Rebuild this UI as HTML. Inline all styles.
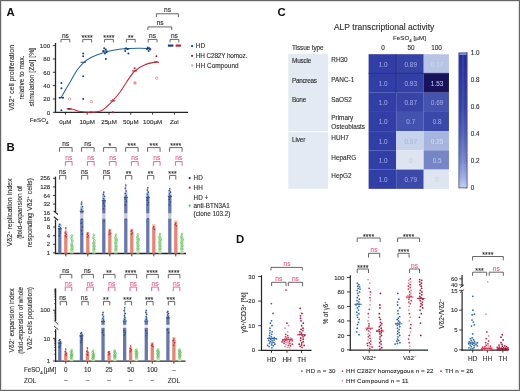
<!DOCTYPE html>
<html><head><meta charset="utf-8"><style>
html,body{margin:0;padding:0;background:#fff;}
svg{display:block;}
#w{width:520px;height:391px;overflow:hidden;will-change:transform;}
text{font-family:"Liberation Sans",sans-serif;}
</style></head><body><div id="w">
<svg width="520" height="391" viewBox="0 0 520 391">
<rect width="520" height="391" fill="#fff"/>
<rect x="1.5" y="1.5" width="517" height="388" fill="none" stroke="#e2e2e2" stroke-width="1"/>
<rect x="0.5" y="0.5" width="519" height="390" fill="none" stroke="#666" stroke-width="1"/>
<text x="6.60" y="16.30" font-size="11.4" text-anchor="start" fill="#111" font-weight="bold" >A</text>
<text x="6.40" y="150.50" font-size="11.4" text-anchor="start" fill="#111" font-weight="bold" >B</text>
<text x="277.60" y="16.20" font-size="11.4" text-anchor="start" fill="#111" font-weight="bold" >C</text>
<text x="235.90" y="242.60" font-size="11.4" text-anchor="start" fill="#111" font-weight="bold" >D</text>
<line x1="55.50" y1="43.00" x2="55.50" y2="112.90" stroke="#262626" stroke-width="1.3" />
<line x1="54.90" y1="112.30" x2="188.00" y2="112.30" stroke="#262626" stroke-width="1.3" />
<line x1="52.80" y1="112.30" x2="55.50" y2="112.30" stroke="#262626" stroke-width="0.9" />
<text x="50.20" y="114.60" font-size="6.2" text-anchor="end" fill="#2e2e2e" font-weight="normal" stroke="#2e2e2e" stroke-width="0.12" >0</text>
<line x1="52.80" y1="98.96" x2="55.50" y2="98.96" stroke="#262626" stroke-width="0.9" />
<text x="50.20" y="101.26" font-size="6.2" text-anchor="end" fill="#2e2e2e" font-weight="normal" stroke="#2e2e2e" stroke-width="0.12" >20</text>
<line x1="52.80" y1="85.62" x2="55.50" y2="85.62" stroke="#262626" stroke-width="0.9" />
<text x="50.20" y="87.92" font-size="6.2" text-anchor="end" fill="#2e2e2e" font-weight="normal" stroke="#2e2e2e" stroke-width="0.12" >40</text>
<line x1="52.80" y1="72.28" x2="55.50" y2="72.28" stroke="#262626" stroke-width="0.9" />
<text x="50.20" y="74.58" font-size="6.2" text-anchor="end" fill="#2e2e2e" font-weight="normal" stroke="#2e2e2e" stroke-width="0.12" >60</text>
<line x1="52.80" y1="58.94" x2="55.50" y2="58.94" stroke="#262626" stroke-width="0.9" />
<text x="50.20" y="61.24" font-size="6.2" text-anchor="end" fill="#2e2e2e" font-weight="normal" stroke="#2e2e2e" stroke-width="0.12" >80</text>
<line x1="52.80" y1="45.60" x2="55.50" y2="45.60" stroke="#262626" stroke-width="0.9" />
<text x="50.20" y="47.90" font-size="6.2" text-anchor="end" fill="#2e2e2e" font-weight="normal" stroke="#2e2e2e" stroke-width="0.12" >100</text>
<line x1="65.40" y1="112.30" x2="65.40" y2="114.70" stroke="#262626" stroke-width="0.9" />
<text x="65.40" y="123.80" font-size="6.2" text-anchor="middle" fill="#2e2e2e" font-weight="normal" stroke="#2e2e2e" stroke-width="0.12" >0µM</text>
<line x1="87.20" y1="112.30" x2="87.20" y2="114.70" stroke="#262626" stroke-width="0.9" />
<text x="87.20" y="123.80" font-size="6.2" text-anchor="middle" fill="#2e2e2e" font-weight="normal" stroke="#2e2e2e" stroke-width="0.12" >10µM</text>
<line x1="109.00" y1="112.30" x2="109.00" y2="114.70" stroke="#262626" stroke-width="0.9" />
<text x="109.00" y="123.80" font-size="6.2" text-anchor="middle" fill="#2e2e2e" font-weight="normal" stroke="#2e2e2e" stroke-width="0.12" >25µM</text>
<line x1="130.80" y1="112.30" x2="130.80" y2="114.70" stroke="#262626" stroke-width="0.9" />
<text x="130.80" y="123.80" font-size="6.2" text-anchor="middle" fill="#2e2e2e" font-weight="normal" stroke="#2e2e2e" stroke-width="0.12" >50µM</text>
<line x1="152.60" y1="112.30" x2="152.60" y2="114.70" stroke="#262626" stroke-width="0.9" />
<text x="152.60" y="123.80" font-size="6.2" text-anchor="middle" fill="#2e2e2e" font-weight="normal" stroke="#2e2e2e" stroke-width="0.12" >100µM</text>
<line x1="174.40" y1="112.30" x2="174.40" y2="114.70" stroke="#262626" stroke-width="0.9" />
<text x="174.40" y="123.80" font-size="6.2" text-anchor="middle" fill="#2e2e2e" font-weight="normal" stroke="#2e2e2e" stroke-width="0.12" >Zol</text>
<text x="29.80" y="121.80" font-size="6.2" text-anchor="start" fill="#2e2e2e" font-weight="normal" stroke="#2e2e2e" stroke-width="0.12" >FeSO<tspan font-size="4.3" dy="1.7">4</tspan><tspan dy="-1.7">​</tspan></text>
<text transform="translate(13.70,77.85) rotate(-90)" font-size="7.4" text-anchor="middle" fill="#2e2e2e" stroke="#2e2e2e" stroke-width="0.12" textLength="66.0" lengthAdjust="spacingAndGlyphs">Vδ2<tspan font-size="4.3" dy="-2.3">+</tspan><tspan dy="2.3">​</tspan> cell proliferation</text>
<text transform="translate(24.40,77.55) rotate(-90)" font-size="7.4" text-anchor="middle" fill="#2e2e2e" stroke="#2e2e2e" stroke-width="0.12" textLength="44.0" lengthAdjust="spacingAndGlyphs">relative to max.</text>
<text transform="translate(33.60,77.30) rotate(-90)" font-size="7.4" text-anchor="middle" fill="#2e2e2e" stroke="#2e2e2e" stroke-width="0.12" textLength="58.5" lengthAdjust="spacingAndGlyphs">stimulation [Zol] [%]</text>
<path d="M61.00 42.40V39.40H69.80V42.40" fill="none" stroke="#5e5e5e" stroke-width="0.95"/>
<text x="65.40" y="37.90" font-size="6.6" text-anchor="middle" fill="#2e2e2e" font-weight="normal" stroke="#2e2e2e" stroke-width="0.12" >ns</text>
<path d="M82.80 42.40V39.40H91.60V42.40" fill="none" stroke="#5e5e5e" stroke-width="0.95"/>
<text x="87.20" y="40.10" font-size="6.9" text-anchor="middle" fill="#2e2e2e" font-weight="normal" stroke="#2e2e2e" stroke-width="0.12" letter-spacing="0.15">****</text>
<path d="M104.60 42.40V39.40H113.40V42.40" fill="none" stroke="#5e5e5e" stroke-width="0.95"/>
<text x="109.00" y="40.10" font-size="6.9" text-anchor="middle" fill="#2e2e2e" font-weight="normal" stroke="#2e2e2e" stroke-width="0.12" letter-spacing="0.15">****</text>
<path d="M126.40 42.40V39.40H135.20V42.40" fill="none" stroke="#5e5e5e" stroke-width="0.95"/>
<text x="130.80" y="40.10" font-size="6.9" text-anchor="middle" fill="#2e2e2e" font-weight="normal" stroke="#2e2e2e" stroke-width="0.12" letter-spacing="0.15">**</text>
<path d="M148.20 42.40V39.40H157.00V42.40" fill="none" stroke="#5e5e5e" stroke-width="0.95"/>
<text x="152.60" y="37.90" font-size="6.6" text-anchor="middle" fill="#2e2e2e" font-weight="normal" stroke="#2e2e2e" stroke-width="0.12" >ns</text>
<path d="M170.00 42.40V39.40H178.80V42.40" fill="none" stroke="#5e5e5e" stroke-width="0.95"/>
<text x="174.40" y="37.90" font-size="6.6" text-anchor="middle" fill="#2e2e2e" font-weight="normal" stroke="#2e2e2e" stroke-width="0.12" >ns</text>
<path d="M147.90 30.00V26.90H171.70V30.00" fill="none" stroke="#5e5e5e" stroke-width="0.95"/>
<text x="160.20" y="25.40" font-size="6.6" text-anchor="middle" fill="#2e2e2e" font-weight="normal" stroke="#2e2e2e" stroke-width="0.12" >ns</text>
<path d="M156.40 17.20V13.80H178.40V17.20" fill="none" stroke="#5e5e5e" stroke-width="0.95"/>
<text x="167.50" y="12.30" font-size="6.6" text-anchor="middle" fill="#2e2e2e" font-weight="normal" stroke="#2e2e2e" stroke-width="0.12" >ns</text>
<path d="M61.30 97.40C62.08 96.00 64.47 91.65 66.00 89.00C67.53 86.35 68.73 84.53 70.50 81.50C72.27 78.47 74.45 73.92 76.60 70.80C78.75 67.68 81.00 65.02 83.40 62.80C85.80 60.58 88.07 59.07 91.00 57.50C93.93 55.93 97.50 54.57 101.00 53.40C104.50 52.23 107.73 51.30 112.00 50.50C116.27 49.70 121.78 48.97 126.60 48.60C131.42 48.23 137.17 48.30 140.90 48.30C144.63 48.30 147.65 48.55 149.00 48.60" fill="none" stroke="#2463a0" stroke-width="1.05"/>
<path d="M67.40 108.70C68.25 108.78 70.28 108.72 72.50 109.20C74.72 109.68 77.62 111.08 80.70 111.60C83.78 112.12 87.58 112.45 91.00 112.30C94.42 112.15 98.37 111.83 101.20 110.70C104.03 109.57 106.03 107.20 108.00 105.50C109.97 103.80 110.92 102.83 113.00 100.50C115.08 98.17 118.23 94.58 120.50 91.50C122.77 88.42 124.22 85.42 126.60 82.00C128.98 78.58 131.73 73.88 134.80 71.00C137.87 68.12 141.22 66.27 145.00 64.70C148.78 63.13 155.42 62.12 157.50 61.60" fill="none" stroke="#c8273d" stroke-width="1.05"/>
<circle cx="61.40" cy="82.95" r="1.0" fill="#1b4273" />
<circle cx="61.40" cy="88.29" r="1.0" fill="#1b4273" />
<circle cx="59.80" cy="97.63" r="1.0" fill="#1b4273" />
<circle cx="63.00" cy="97.63" r="1.0" fill="#1b4273" />
<circle cx="61.40" cy="110.30" r="1.0" fill="#1b4273" />
<line x1="58.80" y1="97.63" x2="64.00" y2="97.63" stroke="#1b4273" stroke-width="1.0" />
<circle cx="83.20" cy="53.60" r="1.0" fill="#1b4273" />
<circle cx="83.20" cy="56.27" r="1.0" fill="#1b4273" />
<circle cx="83.20" cy="76.28" r="1.0" fill="#1b4273" />
<circle cx="83.20" cy="98.96" r="1.0" fill="#1b4273" />
<line x1="80.60" y1="62.27" x2="85.80" y2="62.27" stroke="#1b4273" stroke-width="1.0" />
<circle cx="104.20" cy="48.27" r="1.0" fill="#1b4273" />
<circle cx="105.80" cy="49.60" r="1.0" fill="#1b4273" />
<circle cx="103.40" cy="50.94" r="1.0" fill="#1b4273" />
<circle cx="106.60" cy="52.27" r="1.0" fill="#1b4273" />
<circle cx="105.00" cy="53.60" r="1.0" fill="#1b4273" />
<circle cx="105.90" cy="58.94" r="1.0" fill="#1b4273" />
<line x1="102.40" y1="50.94" x2="107.60" y2="50.94" stroke="#1b4273" stroke-width="1.0" />
<circle cx="126.00" cy="48.27" r="1.0" fill="#1b4273" />
<circle cx="127.60" cy="48.93" r="1.0" fill="#1b4273" />
<circle cx="125.20" cy="50.94" r="1.0" fill="#1b4273" />
<circle cx="128.40" cy="53.60" r="1.0" fill="#1b4273" />
<line x1="124.20" y1="48.93" x2="129.40" y2="48.93" stroke="#1b4273" stroke-width="1.0" />
<circle cx="147.80" cy="47.60" r="1.0" fill="#1b4273" />
<circle cx="149.40" cy="48.27" r="1.0" fill="#1b4273" />
<circle cx="147.00" cy="48.93" r="1.0" fill="#1b4273" />
<circle cx="150.20" cy="49.60" r="1.0" fill="#1b4273" />
<circle cx="148.60" cy="50.94" r="1.0" fill="#1b4273" />
<line x1="146.00" y1="48.93" x2="151.20" y2="48.93" stroke="#1b4273" stroke-width="1.0" />
<circle cx="69.20" cy="108.97" r="1.0" fill="#a8202f" />
<line x1="66.60" y1="108.97" x2="71.80" y2="108.97" stroke="#a8202f" stroke-width="1.0" />
<circle cx="91.00" cy="112.30" r="1.0" fill="#a8202f" />
<line x1="88.40" y1="112.30" x2="93.60" y2="112.30" stroke="#a8202f" stroke-width="1.0" />
<circle cx="112.80" cy="100.29" r="1.0" fill="#a8202f" />
<circle cx="112.80" cy="112.30" r="1.0" fill="#a8202f" />
<line x1="110.20" y1="100.96" x2="115.40" y2="100.96" stroke="#a8202f" stroke-width="1.0" />
<circle cx="134.60" cy="68.28" r="1.0" fill="#a8202f" />
<line x1="132.00" y1="70.95" x2="137.20" y2="70.95" stroke="#a8202f" stroke-width="1.0" />
<circle cx="156.40" cy="56.27" r="1.0" fill="#a8202f" />
<line x1="153.80" y1="62.27" x2="159.00" y2="62.27" stroke="#a8202f" stroke-width="1.0" />
<circle cx="69.60" cy="98.96" r="1.25" fill="none" stroke="#e2727d" stroke-width="0.65"/>
<circle cx="91.40" cy="101.63" r="1.25" fill="none" stroke="#e2727d" stroke-width="0.65"/>
<circle cx="113.20" cy="100.29" r="1.25" fill="none" stroke="#e2727d" stroke-width="0.65"/>
<circle cx="135.00" cy="82.95" r="1.25" fill="#f0b0b5" stroke="#e2727d" stroke-width="0.65"/>
<circle cx="156.80" cy="78.28" r="1.25" fill="none" stroke="#e2727d" stroke-width="0.65"/>
<line x1="167.90" y1="45.60" x2="173.40" y2="45.60" stroke="#1b4273" stroke-width="2.2" />
<line x1="175.60" y1="45.60" x2="181.00" y2="45.60" stroke="#b8243a" stroke-width="2.2" />
<circle cx="192.10" cy="46.10" r="1.1" fill="#1d3f66" />
<text x="195.80" y="48.30" font-size="6.4" text-anchor="start" fill="#2e2e2e" font-weight="normal" stroke="#2e2e2e" stroke-width="0.12" >HD</text>
<circle cx="192.10" cy="55.80" r="1.1" fill="#8a2030" />
<text x="195.80" y="58.00" font-size="6.4" text-anchor="start" fill="#2e2e2e" font-weight="normal" stroke="#2e2e2e" stroke-width="0.12" textLength="51.5">HH C282Y homoz.</text>
<circle cx="192.10" cy="65.50" r="1.15" fill="#e8a0a8" />
<text x="195.80" y="67.70" font-size="6.4" text-anchor="start" fill="#2e2e2e" font-weight="normal" stroke="#2e2e2e" stroke-width="0.12" textLength="42.8">HH Compound</text>
<line x1="55.50" y1="176.60" x2="55.50" y2="212.00" stroke="#262626" stroke-width="1.3" />
<line x1="55.50" y1="219.60" x2="55.50" y2="254.10" stroke="#262626" stroke-width="1.3" />
<line x1="53.60" y1="210.90" x2="58.00" y2="214.50" stroke="#262626" stroke-width="1.1" />
<line x1="53.80" y1="216.70" x2="58.20" y2="220.30" stroke="#262626" stroke-width="1.1" />
<line x1="54.90" y1="253.50" x2="186.00" y2="253.50" stroke="#262626" stroke-width="1.3" />
<line x1="53.00" y1="178.30" x2="55.50" y2="178.30" stroke="#262626" stroke-width="0.9" />
<text x="50.20" y="180.40" font-size="6.0" text-anchor="end" fill="#2e2e2e" font-weight="normal" stroke="#2e2e2e" stroke-width="0.12" >256</text>
<line x1="53.00" y1="186.90" x2="55.50" y2="186.90" stroke="#262626" stroke-width="0.9" />
<text x="50.20" y="189.00" font-size="6.0" text-anchor="end" fill="#2e2e2e" font-weight="normal" stroke="#2e2e2e" stroke-width="0.12" >128</text>
<line x1="53.00" y1="195.50" x2="55.50" y2="195.50" stroke="#262626" stroke-width="0.9" />
<text x="50.20" y="197.60" font-size="6.0" text-anchor="end" fill="#2e2e2e" font-weight="normal" stroke="#2e2e2e" stroke-width="0.12" >64</text>
<line x1="53.00" y1="204.10" x2="55.50" y2="204.10" stroke="#262626" stroke-width="0.9" />
<text x="50.20" y="206.20" font-size="6.0" text-anchor="end" fill="#2e2e2e" font-weight="normal" stroke="#2e2e2e" stroke-width="0.12" >32</text>
<text x="50.20" y="214.80" font-size="6.0" text-anchor="end" fill="#2e2e2e" font-weight="normal" stroke="#2e2e2e" stroke-width="0.12" >16</text>
<text x="50.20" y="220.60" font-size="6.0" text-anchor="end" fill="#2e2e2e" font-weight="normal" stroke="#2e2e2e" stroke-width="0.12" >16</text>
<line x1="53.00" y1="227.10" x2="55.50" y2="227.10" stroke="#262626" stroke-width="0.9" />
<text x="50.20" y="229.20" font-size="6.0" text-anchor="end" fill="#2e2e2e" font-weight="normal" stroke="#2e2e2e" stroke-width="0.12" >8</text>
<line x1="53.00" y1="235.70" x2="55.50" y2="235.70" stroke="#262626" stroke-width="0.9" />
<text x="50.20" y="237.80" font-size="6.0" text-anchor="end" fill="#2e2e2e" font-weight="normal" stroke="#2e2e2e" stroke-width="0.12" >4</text>
<line x1="53.00" y1="244.30" x2="55.50" y2="244.30" stroke="#262626" stroke-width="0.9" />
<text x="50.20" y="246.40" font-size="6.0" text-anchor="end" fill="#2e2e2e" font-weight="normal" stroke="#2e2e2e" stroke-width="0.12" >2</text>
<line x1="53.00" y1="252.90" x2="55.50" y2="252.90" stroke="#262626" stroke-width="0.9" />
<text x="50.20" y="255.00" font-size="6.0" text-anchor="end" fill="#2e2e2e" font-weight="normal" stroke="#2e2e2e" stroke-width="0.12" >1</text>
<line x1="65.80" y1="253.50" x2="65.80" y2="256.30" stroke="#262626" stroke-width="0.9" />
<line x1="87.80" y1="253.50" x2="87.80" y2="256.30" stroke="#262626" stroke-width="0.9" />
<line x1="109.80" y1="253.50" x2="109.80" y2="256.30" stroke="#262626" stroke-width="0.9" />
<line x1="131.80" y1="253.50" x2="131.80" y2="256.30" stroke="#262626" stroke-width="0.9" />
<line x1="153.80" y1="253.50" x2="153.80" y2="256.30" stroke="#262626" stroke-width="0.9" />
<line x1="175.80" y1="253.50" x2="175.80" y2="256.30" stroke="#262626" stroke-width="0.9" />
<text transform="translate(12.20,212.45) rotate(-90)" font-size="7.4" text-anchor="middle" fill="#2e2e2e" stroke="#2e2e2e" stroke-width="0.12" textLength="68.0" lengthAdjust="spacingAndGlyphs">Vδ2<tspan font-size="4.3" dy="-2.3">+</tspan><tspan dy="2.3">​</tspan> replication index</text>
<text transform="translate(22.30,212.45) rotate(-90)" font-size="7.4" text-anchor="middle" fill="#2e2e2e" stroke="#2e2e2e" stroke-width="0.12" textLength="52.8" lengthAdjust="spacingAndGlyphs">(fold-expansion of</text>
<text transform="translate(31.70,212.80) rotate(-90)" font-size="7.4" text-anchor="middle" fill="#2e2e2e" stroke="#2e2e2e" stroke-width="0.12" textLength="69.5" lengthAdjust="spacingAndGlyphs">responding Vδ2<tspan font-size="4.3" dy="-2.3">+</tspan><tspan dy="2.3">​</tspan> cells)</text>
<line x1="59.80" y1="224.33" x2="59.80" y2="228.76" stroke="#284f8c" stroke-width="0.6" />
<rect x="58.15" y="223.73" width="3.30" height="5.03" fill="#b4c3e0" />
<rect x="64.15" y="231.08" width="3.30" height="3.72" fill="#f3b9ab" />
<rect x="58.15" y="228.76" width="3.30" height="24.74" fill="#6677ae" />
<circle cx="59.80" cy="224.33" r="0.8" fill="#284f8c" />
<circle cx="59.20" cy="226.35" r="0.8" fill="#284f8c" />
<circle cx="60.40" cy="227.90" r="0.8" fill="#284f8c" />
<circle cx="59.50" cy="229.68" r="0.8" fill="#284f8c" />
<circle cx="60.10" cy="231.75" r="0.8" fill="#284f8c" />
<circle cx="59.80" cy="233.44" r="0.8" fill="#284f8c" />
<circle cx="59.20" cy="235.70" r="0.8" fill="#284f8c" />
<line x1="57.80" y1="228.76" x2="61.80" y2="228.76" stroke="#284f8c" stroke-width="1.1" />
<line x1="65.80" y1="227.90" x2="65.80" y2="234.80" stroke="#cf2a2e" stroke-width="0.6" />
<rect x="64.15" y="234.80" width="3.30" height="18.70" fill="#e98474" />
<circle cx="65.80" cy="227.90" r="0.8" fill="#cf2a2e" />
<circle cx="65.20" cy="232.93" r="0.8" fill="#cf2a2e" />
<circle cx="66.40" cy="234.24" r="0.8" fill="#cf2a2e" />
<circle cx="65.50" cy="235.70" r="0.8" fill="#cf2a2e" />
<circle cx="66.10" cy="237.01" r="0.8" fill="#cf2a2e" />
<rect x="70.25" y="244.30" width="3.30" height="9.20" fill="#b6e2ae" />
<line x1="71.90" y1="235.70" x2="71.90" y2="244.30" stroke="#52be52" stroke-width="0.5" />
<circle cx="71.90" cy="235.70" r="1.0" fill="none" stroke="#52be52" stroke-width="0.6"/>
<circle cx="71.30" cy="238.47" r="1.0" fill="none" stroke="#52be52" stroke-width="0.6"/>
<circle cx="72.50" cy="241.04" r="1.0" fill="none" stroke="#52be52" stroke-width="0.6"/>
<circle cx="71.60" cy="243.69" r="1.0" fill="none" stroke="#52be52" stroke-width="0.6"/>
<circle cx="72.20" cy="246.32" r="1.0" fill="none" stroke="#52be52" stroke-width="0.6"/>
<circle cx="71.90" cy="249.18" r="1.0" fill="none" stroke="#52be52" stroke-width="0.6"/>
<line x1="81.80" y1="201.97" x2="81.80" y2="211.24" stroke="#284f8c" stroke-width="0.6" />
<rect x="80.15" y="206.21" width="3.30" height="5.03" fill="#b4c3e0" />
<rect x="86.15" y="231.98" width="3.30" height="3.72" fill="#f3b9ab" />
<rect x="80.15" y="218.40" width="3.30" height="35.10" fill="#6677ae" />
<rect x="80.15" y="213.40" width="3.30" height="5.00" fill="#c3cbe0" />
<rect x="80.15" y="211.24" width="3.30" height="2.16" fill="#6677ae" />
<circle cx="81.80" cy="201.97" r="0.8" fill="#284f8c" />
<circle cx="81.20" cy="204.10" r="0.8" fill="#284f8c" />
<circle cx="82.40" cy="206.68" r="0.8" fill="#284f8c" />
<circle cx="81.50" cy="209.33" r="0.8" fill="#284f8c" />
<circle cx="82.10" cy="211.24" r="0.8" fill="#284f8c" />
<circle cx="81.80" cy="219.30" r="0.8" fill="#284f8c" />
<circle cx="81.20" cy="223.15" r="0.8" fill="#284f8c" />
<circle cx="82.40" cy="227.10" r="0.8" fill="#284f8c" />
<circle cx="81.50" cy="230.67" r="0.8" fill="#284f8c" />
<circle cx="82.10" cy="234.24" r="0.8" fill="#284f8c" />
<line x1="79.80" y1="211.24" x2="83.80" y2="211.24" stroke="#284f8c" stroke-width="1.1" />
<line x1="87.80" y1="232.93" x2="87.80" y2="235.70" stroke="#cf2a2e" stroke-width="0.6" />
<rect x="86.15" y="235.70" width="3.30" height="17.80" fill="#e98474" />
<circle cx="87.80" cy="232.93" r="0.8" fill="#cf2a2e" />
<circle cx="87.20" cy="234.52" r="0.8" fill="#cf2a2e" />
<circle cx="88.40" cy="235.70" r="0.8" fill="#cf2a2e" />
<circle cx="87.50" cy="237.01" r="0.8" fill="#cf2a2e" />
<rect x="92.25" y="242.04" width="3.30" height="11.46" fill="#b6e2ae" />
<line x1="93.90" y1="234.80" x2="93.90" y2="242.04" stroke="#52be52" stroke-width="0.5" />
<circle cx="93.90" cy="234.80" r="1.0" fill="none" stroke="#52be52" stroke-width="0.6"/>
<circle cx="93.30" cy="237.72" r="1.0" fill="none" stroke="#52be52" stroke-width="0.6"/>
<circle cx="94.50" cy="240.58" r="1.0" fill="none" stroke="#52be52" stroke-width="0.6"/>
<circle cx="93.60" cy="243.12" r="1.0" fill="none" stroke="#52be52" stroke-width="0.6"/>
<circle cx="94.20" cy="246.32" r="1.0" fill="none" stroke="#52be52" stroke-width="0.6"/>
<circle cx="93.90" cy="249.18" r="1.0" fill="none" stroke="#52be52" stroke-width="0.6"/>
<line x1="103.80" y1="192.13" x2="103.80" y2="200.73" stroke="#284f8c" stroke-width="0.6" />
<rect x="102.15" y="195.70" width="3.30" height="5.03" fill="#b4c3e0" />
<rect x="108.15" y="228.72" width="3.30" height="3.72" fill="#f3b9ab" />
<rect x="102.15" y="218.40" width="3.30" height="35.10" fill="#6677ae" />
<rect x="102.15" y="213.40" width="3.30" height="5.00" fill="#c3cbe0" />
<rect x="102.15" y="200.73" width="3.30" height="12.67" fill="#6677ae" />
<circle cx="103.80" cy="192.13" r="0.8" fill="#284f8c" />
<circle cx="103.20" cy="194.39" r="0.8" fill="#284f8c" />
<circle cx="104.40" cy="196.30" r="0.8" fill="#284f8c" />
<circle cx="103.50" cy="198.56" r="0.8" fill="#284f8c" />
<circle cx="104.10" cy="200.15" r="0.8" fill="#284f8c" />
<circle cx="103.80" cy="201.97" r="0.8" fill="#284f8c" />
<circle cx="103.20" cy="203.72" r="0.8" fill="#284f8c" />
<circle cx="104.40" cy="205.76" r="0.8" fill="#284f8c" />
<circle cx="103.50" cy="208.75" r="0.8" fill="#284f8c" />
<circle cx="104.10" cy="221.08" r="0.8" fill="#284f8c" />
<line x1="101.80" y1="200.73" x2="105.80" y2="200.73" stroke="#284f8c" stroke-width="1.1" />
<line x1="109.80" y1="230.26" x2="109.80" y2="232.44" stroke="#cf2a2e" stroke-width="0.6" />
<rect x="108.15" y="232.44" width="3.30" height="21.06" fill="#e98474" />
<circle cx="109.80" cy="230.26" r="0.8" fill="#cf2a2e" />
<circle cx="109.20" cy="231.98" r="0.8" fill="#cf2a2e" />
<circle cx="110.40" cy="233.18" r="0.8" fill="#cf2a2e" />
<circle cx="109.50" cy="234.52" r="0.8" fill="#cf2a2e" />
<rect x="114.25" y="238.09" width="3.30" height="15.41" fill="#b6e2ae" />
<line x1="115.90" y1="234.80" x2="115.90" y2="238.09" stroke="#52be52" stroke-width="0.5" />
<circle cx="115.90" cy="234.80" r="1.0" fill="none" stroke="#52be52" stroke-width="0.6"/>
<circle cx="115.30" cy="237.36" r="1.0" fill="none" stroke="#52be52" stroke-width="0.6"/>
<circle cx="116.50" cy="240.13" r="1.0" fill="none" stroke="#52be52" stroke-width="0.6"/>
<circle cx="115.60" cy="243.12" r="1.0" fill="none" stroke="#52be52" stroke-width="0.6"/>
<circle cx="116.20" cy="246.32" r="1.0" fill="none" stroke="#52be52" stroke-width="0.6"/>
<circle cx="115.90" cy="249.18" r="1.0" fill="none" stroke="#52be52" stroke-width="0.6"/>
<line x1="125.80" y1="184.93" x2="125.80" y2="197.38" stroke="#284f8c" stroke-width="0.6" />
<rect x="124.15" y="192.35" width="3.30" height="5.03" fill="#b4c3e0" />
<rect x="130.15" y="228.72" width="3.30" height="3.72" fill="#f3b9ab" />
<rect x="124.15" y="218.40" width="3.30" height="35.10" fill="#6677ae" />
<rect x="124.15" y="213.40" width="3.30" height="5.00" fill="#c3cbe0" />
<rect x="124.15" y="197.38" width="3.30" height="16.02" fill="#6677ae" />
<circle cx="125.80" cy="184.93" r="0.8" fill="#284f8c" />
<circle cx="125.20" cy="188.23" r="0.8" fill="#284f8c" />
<circle cx="126.40" cy="191.00" r="0.8" fill="#284f8c" />
<circle cx="125.50" cy="193.53" r="0.8" fill="#284f8c" />
<circle cx="126.10" cy="195.50" r="0.8" fill="#284f8c" />
<circle cx="125.80" cy="197.16" r="0.8" fill="#284f8c" />
<circle cx="125.20" cy="199.07" r="0.8" fill="#284f8c" />
<circle cx="126.40" cy="201.33" r="0.8" fill="#284f8c" />
<circle cx="125.50" cy="204.90" r="0.8" fill="#284f8c" />
<circle cx="126.10" cy="219.30" r="0.8" fill="#284f8c" />
<line x1="123.80" y1="197.38" x2="127.80" y2="197.38" stroke="#284f8c" stroke-width="1.1" />
<line x1="131.80" y1="230.26" x2="131.80" y2="232.44" stroke="#cf2a2e" stroke-width="0.6" />
<rect x="130.15" y="232.44" width="3.30" height="21.06" fill="#e98474" />
<circle cx="131.80" cy="230.26" r="0.8" fill="#cf2a2e" />
<circle cx="131.20" cy="231.53" r="0.8" fill="#cf2a2e" />
<circle cx="132.40" cy="232.93" r="0.8" fill="#cf2a2e" />
<circle cx="131.50" cy="233.97" r="0.8" fill="#cf2a2e" />
<rect x="136.25" y="237.72" width="3.30" height="15.78" fill="#b6e2ae" />
<line x1="137.90" y1="234.52" x2="137.90" y2="237.72" stroke="#52be52" stroke-width="0.5" />
<circle cx="137.90" cy="234.52" r="1.0" fill="none" stroke="#52be52" stroke-width="0.6"/>
<circle cx="137.30" cy="237.01" r="1.0" fill="none" stroke="#52be52" stroke-width="0.6"/>
<circle cx="138.50" cy="239.69" r="1.0" fill="none" stroke="#52be52" stroke-width="0.6"/>
<circle cx="137.60" cy="242.57" r="1.0" fill="none" stroke="#52be52" stroke-width="0.6"/>
<circle cx="138.20" cy="245.61" r="1.0" fill="none" stroke="#52be52" stroke-width="0.6"/>
<circle cx="137.90" cy="248.73" r="1.0" fill="none" stroke="#52be52" stroke-width="0.6"/>
<line x1="147.80" y1="187.70" x2="147.80" y2="197.38" stroke="#284f8c" stroke-width="0.6" />
<rect x="146.15" y="192.35" width="3.30" height="5.03" fill="#b4c3e0" />
<rect x="152.15" y="224.18" width="3.30" height="3.72" fill="#f3b9ab" />
<rect x="146.15" y="218.40" width="3.30" height="35.10" fill="#6677ae" />
<rect x="146.15" y="213.40" width="3.30" height="5.00" fill="#c3cbe0" />
<rect x="146.15" y="197.38" width="3.30" height="16.02" fill="#6677ae" />
<circle cx="147.80" cy="187.70" r="0.8" fill="#284f8c" />
<circle cx="147.20" cy="189.96" r="0.8" fill="#284f8c" />
<circle cx="148.40" cy="192.13" r="0.8" fill="#284f8c" />
<circle cx="147.50" cy="194.39" r="0.8" fill="#284f8c" />
<circle cx="148.10" cy="196.30" r="0.8" fill="#284f8c" />
<circle cx="147.80" cy="198.08" r="0.8" fill="#284f8c" />
<circle cx="147.20" cy="200.15" r="0.8" fill="#284f8c" />
<circle cx="148.40" cy="202.64" r="0.8" fill="#284f8c" />
<circle cx="147.50" cy="204.90" r="0.8" fill="#284f8c" />
<circle cx="148.10" cy="218.50" r="0.8" fill="#284f8c" />
<line x1="145.80" y1="197.38" x2="149.80" y2="197.38" stroke="#284f8c" stroke-width="1.1" />
<line x1="153.80" y1="226.79" x2="153.80" y2="227.90" stroke="#cf2a2e" stroke-width="0.6" />
<rect x="152.15" y="227.90" width="3.30" height="25.60" fill="#e98474" />
<circle cx="153.80" cy="226.79" r="0.8" fill="#cf2a2e" />
<circle cx="153.20" cy="228.07" r="0.8" fill="#cf2a2e" />
<circle cx="154.40" cy="229.49" r="0.8" fill="#cf2a2e" />
<rect x="158.25" y="236.67" width="3.30" height="16.83" fill="#b6e2ae" />
<line x1="159.90" y1="233.97" x2="159.90" y2="236.67" stroke="#52be52" stroke-width="0.5" />
<circle cx="159.90" cy="233.97" r="1.0" fill="none" stroke="#52be52" stroke-width="0.6"/>
<circle cx="159.30" cy="236.67" r="1.0" fill="none" stroke="#52be52" stroke-width="0.6"/>
<circle cx="160.50" cy="239.69" r="1.0" fill="none" stroke="#52be52" stroke-width="0.6"/>
<circle cx="159.60" cy="242.57" r="1.0" fill="none" stroke="#52be52" stroke-width="0.6"/>
<circle cx="160.20" cy="245.61" r="1.0" fill="none" stroke="#52be52" stroke-width="0.6"/>
<circle cx="159.90" cy="248.73" r="1.0" fill="none" stroke="#52be52" stroke-width="0.6"/>
<line x1="169.80" y1="188.78" x2="169.80" y2="196.30" stroke="#284f8c" stroke-width="0.6" />
<rect x="168.15" y="191.27" width="3.30" height="5.03" fill="#b4c3e0" />
<rect x="174.15" y="220.61" width="3.30" height="3.72" fill="#f3b9ab" />
<rect x="168.15" y="218.40" width="3.30" height="35.10" fill="#6677ae" />
<rect x="168.15" y="213.40" width="3.30" height="5.00" fill="#c3cbe0" />
<rect x="168.15" y="196.30" width="3.30" height="17.10" fill="#6677ae" />
<circle cx="169.80" cy="188.78" r="0.8" fill="#284f8c" />
<circle cx="169.20" cy="190.47" r="0.8" fill="#284f8c" />
<circle cx="170.40" cy="192.13" r="0.8" fill="#284f8c" />
<circle cx="169.50" cy="194.04" r="0.8" fill="#284f8c" />
<circle cx="170.10" cy="195.89" r="0.8" fill="#284f8c" />
<circle cx="169.80" cy="197.61" r="0.8" fill="#284f8c" />
<circle cx="169.20" cy="199.60" r="0.8" fill="#284f8c" />
<circle cx="170.40" cy="201.97" r="0.8" fill="#284f8c" />
<circle cx="169.50" cy="204.90" r="0.8" fill="#284f8c" />
<line x1="167.80" y1="196.30" x2="171.80" y2="196.30" stroke="#284f8c" stroke-width="1.1" />
<line x1="175.80" y1="223.15" x2="175.80" y2="224.33" stroke="#cf2a2e" stroke-width="0.6" />
<rect x="174.15" y="224.33" width="3.30" height="29.17" fill="#e98474" />
<circle cx="175.80" cy="223.15" r="0.8" fill="#cf2a2e" />
<circle cx="175.20" cy="224.58" r="0.8" fill="#cf2a2e" />
<circle cx="176.40" cy="225.92" r="0.8" fill="#cf2a2e" />
<rect x="180.25" y="236.67" width="3.30" height="16.83" fill="#b6e2ae" />
<line x1="181.90" y1="233.97" x2="181.90" y2="236.67" stroke="#52be52" stroke-width="0.5" />
<circle cx="181.90" cy="233.97" r="1.0" fill="none" stroke="#52be52" stroke-width="0.6"/>
<circle cx="181.30" cy="236.67" r="1.0" fill="none" stroke="#52be52" stroke-width="0.6"/>
<circle cx="182.50" cy="239.69" r="1.0" fill="none" stroke="#52be52" stroke-width="0.6"/>
<circle cx="181.60" cy="242.57" r="1.0" fill="none" stroke="#52be52" stroke-width="0.6"/>
<circle cx="182.20" cy="245.61" r="1.0" fill="none" stroke="#52be52" stroke-width="0.6"/>
<circle cx="181.90" cy="248.73" r="1.0" fill="none" stroke="#52be52" stroke-width="0.6"/>
<path d="M59.60 151.80V147.60H72.10V151.80" fill="none" stroke="#5e5e5e" stroke-width="0.95"/>
<text x="65.80" y="146.10" font-size="6.6" text-anchor="middle" fill="#2e2e2e" font-weight="normal" stroke="#2e2e2e" stroke-width="0.12" >ns</text>
<path d="M65.40 165.80V161.60H72.10V165.80" fill="none" stroke="#e55d89" stroke-width="0.95"/>
<text x="68.80" y="160.10" font-size="6.6" text-anchor="middle" fill="#e55d89" font-weight="normal" stroke="#e55d89" stroke-width="0.12" >ns</text>
<path d="M59.60 179.60V175.40H65.80V179.60" fill="none" stroke="#5e5e5e" stroke-width="0.95"/>
<text x="62.60" y="173.90" font-size="6.6" text-anchor="middle" fill="#2e2e2e" font-weight="normal" stroke="#2e2e2e" stroke-width="0.12" >ns</text>
<path d="M81.60 151.80V147.60H94.10V151.80" fill="none" stroke="#5e5e5e" stroke-width="0.95"/>
<text x="87.80" y="146.10" font-size="6.6" text-anchor="middle" fill="#2e2e2e" font-weight="normal" stroke="#2e2e2e" stroke-width="0.12" >ns</text>
<path d="M87.40 165.80V161.60H94.10V165.80" fill="none" stroke="#e55d89" stroke-width="0.95"/>
<text x="90.80" y="160.10" font-size="6.6" text-anchor="middle" fill="#e55d89" font-weight="normal" stroke="#e55d89" stroke-width="0.12" >ns</text>
<path d="M81.60 179.60V175.40H87.80V179.60" fill="none" stroke="#5e5e5e" stroke-width="0.95"/>
<text x="84.60" y="173.90" font-size="6.6" text-anchor="middle" fill="#2e2e2e" font-weight="normal" stroke="#2e2e2e" stroke-width="0.12" >ns</text>
<path d="M103.60 151.80V147.60H116.10V151.80" fill="none" stroke="#5e5e5e" stroke-width="0.95"/>
<text x="109.80" y="148.30" font-size="6.9" text-anchor="middle" fill="#2e2e2e" font-weight="normal" stroke="#2e2e2e" stroke-width="0.12" letter-spacing="0.15">*</text>
<path d="M109.40 165.80V161.60H116.10V165.80" fill="none" stroke="#e55d89" stroke-width="0.95"/>
<text x="112.80" y="160.10" font-size="6.6" text-anchor="middle" fill="#e55d89" font-weight="normal" stroke="#e55d89" stroke-width="0.12" >ns</text>
<path d="M103.60 179.60V175.40H109.80V179.60" fill="none" stroke="#5e5e5e" stroke-width="0.95"/>
<text x="106.60" y="173.90" font-size="6.6" text-anchor="middle" fill="#2e2e2e" font-weight="normal" stroke="#2e2e2e" stroke-width="0.12" >ns</text>
<path d="M125.60 151.80V147.60H138.10V151.80" fill="none" stroke="#5e5e5e" stroke-width="0.95"/>
<text x="131.80" y="148.30" font-size="6.9" text-anchor="middle" fill="#2e2e2e" font-weight="normal" stroke="#2e2e2e" stroke-width="0.12" letter-spacing="0.15">***</text>
<path d="M131.40 165.80V161.60H138.10V165.80" fill="none" stroke="#e55d89" stroke-width="0.95"/>
<text x="134.80" y="160.10" font-size="6.6" text-anchor="middle" fill="#e55d89" font-weight="normal" stroke="#e55d89" stroke-width="0.12" >ns</text>
<path d="M125.60 179.60V175.40H131.80V179.60" fill="none" stroke="#5e5e5e" stroke-width="0.95"/>
<text x="128.60" y="176.10" font-size="6.9" text-anchor="middle" fill="#2e2e2e" font-weight="normal" stroke="#2e2e2e" stroke-width="0.12" letter-spacing="0.15">**</text>
<path d="M147.60 151.80V147.60H160.10V151.80" fill="none" stroke="#5e5e5e" stroke-width="0.95"/>
<text x="153.80" y="148.30" font-size="6.9" text-anchor="middle" fill="#2e2e2e" font-weight="normal" stroke="#2e2e2e" stroke-width="0.12" letter-spacing="0.15">***</text>
<path d="M153.40 165.80V161.60H160.10V165.80" fill="none" stroke="#e55d89" stroke-width="0.95"/>
<text x="156.80" y="160.10" font-size="6.6" text-anchor="middle" fill="#e55d89" font-weight="normal" stroke="#e55d89" stroke-width="0.12" >ns</text>
<path d="M147.60 179.60V175.40H153.80V179.60" fill="none" stroke="#5e5e5e" stroke-width="0.95"/>
<text x="150.60" y="176.10" font-size="6.9" text-anchor="middle" fill="#2e2e2e" font-weight="normal" stroke="#2e2e2e" stroke-width="0.12" letter-spacing="0.15">**</text>
<path d="M169.60 151.80V147.60H182.10V151.80" fill="none" stroke="#5e5e5e" stroke-width="0.95"/>
<text x="175.80" y="148.30" font-size="6.9" text-anchor="middle" fill="#2e2e2e" font-weight="normal" stroke="#2e2e2e" stroke-width="0.12" letter-spacing="0.15">****</text>
<path d="M175.40 165.80V161.60H182.10V165.80" fill="none" stroke="#e55d89" stroke-width="0.95"/>
<text x="178.80" y="160.10" font-size="6.6" text-anchor="middle" fill="#e55d89" font-weight="normal" stroke="#e55d89" stroke-width="0.12" >ns</text>
<path d="M169.60 179.60V175.40H175.80V179.60" fill="none" stroke="#5e5e5e" stroke-width="0.95"/>
<text x="172.60" y="176.10" font-size="6.9" text-anchor="middle" fill="#2e2e2e" font-weight="normal" stroke="#2e2e2e" stroke-width="0.12" letter-spacing="0.15">***</text>
<circle cx="189.70" cy="178.10" r="1.1" fill="#1d3f66" />
<text x="193.60" y="180.30" font-size="6.3" text-anchor="start" fill="#2e2e2e" font-weight="normal" stroke="#2e2e2e" stroke-width="0.12" >HD</text>
<circle cx="189.70" cy="187.70" r="1.1" fill="#d03030" />
<text x="193.60" y="189.90" font-size="6.3" text-anchor="start" fill="#2e2e2e" font-weight="normal" stroke="#2e2e2e" stroke-width="0.12" >HH</text>
<text x="193.60" y="200.00" font-size="6.3" text-anchor="start" fill="#2e2e2e" font-weight="normal" stroke="#2e2e2e" stroke-width="0.12" >HD +</text>
<circle cx="189.70" cy="205.70" r="1.1" fill="#52be52" />
<text x="193.60" y="208.00" font-size="6.3" text-anchor="start" fill="#2e2e2e" font-weight="normal" stroke="#2e2e2e" stroke-width="0.12" >anti-BTN3A1</text>
<text x="193.60" y="216.00" font-size="6.3" text-anchor="start" fill="#2e2e2e" font-weight="normal" stroke="#2e2e2e" stroke-width="0.12" >(clone 103.2)</text>
<line x1="55.60" y1="288.40" x2="55.60" y2="321.00" stroke="#262626" stroke-width="1.3" />
<line x1="55.60" y1="329.20" x2="55.60" y2="361.80" stroke="#262626" stroke-width="1.3" />
<line x1="54.20" y1="320.50" x2="58.30" y2="324.60" stroke="#262626" stroke-width="0.9" />
<line x1="54.20" y1="326.10" x2="58.30" y2="329.70" stroke="#262626" stroke-width="0.9" />
<line x1="55.00" y1="361.20" x2="185.50" y2="361.20" stroke="#262626" stroke-width="1.3" />
<line x1="53.90" y1="318.95" x2="55.60" y2="318.95" stroke="#262626" stroke-width="0.6" />
<line x1="53.90" y1="316.82" x2="55.60" y2="316.82" stroke="#262626" stroke-width="0.6" />
<line x1="53.90" y1="315.08" x2="55.60" y2="315.08" stroke="#262626" stroke-width="0.6" />
<line x1="53.90" y1="313.61" x2="55.60" y2="313.61" stroke="#262626" stroke-width="0.6" />
<line x1="53.90" y1="312.33" x2="55.60" y2="312.33" stroke="#262626" stroke-width="0.6" />
<line x1="53.90" y1="311.21" x2="55.60" y2="311.21" stroke="#262626" stroke-width="0.6" />
<line x1="53.90" y1="303.58" x2="55.60" y2="303.58" stroke="#262626" stroke-width="0.6" />
<line x1="53.90" y1="299.70" x2="55.60" y2="299.70" stroke="#262626" stroke-width="0.6" />
<line x1="53.90" y1="296.95" x2="55.60" y2="296.95" stroke="#262626" stroke-width="0.6" />
<line x1="53.90" y1="294.82" x2="55.60" y2="294.82" stroke="#262626" stroke-width="0.6" />
<line x1="53.90" y1="293.08" x2="55.60" y2="293.08" stroke="#262626" stroke-width="0.6" />
<line x1="53.90" y1="291.61" x2="55.60" y2="291.61" stroke="#262626" stroke-width="0.6" />
<line x1="53.90" y1="290.33" x2="55.60" y2="290.33" stroke="#262626" stroke-width="0.6" />
<line x1="53.90" y1="289.21" x2="55.60" y2="289.21" stroke="#262626" stroke-width="0.6" />
<line x1="53.90" y1="354.20" x2="55.60" y2="354.20" stroke="#262626" stroke-width="0.6" />
<line x1="53.90" y1="350.22" x2="55.60" y2="350.22" stroke="#262626" stroke-width="0.6" />
<line x1="53.90" y1="347.39" x2="55.60" y2="347.39" stroke="#262626" stroke-width="0.6" />
<line x1="53.90" y1="345.20" x2="55.60" y2="345.20" stroke="#262626" stroke-width="0.6" />
<line x1="53.90" y1="343.41" x2="55.60" y2="343.41" stroke="#262626" stroke-width="0.6" />
<line x1="53.90" y1="341.90" x2="55.60" y2="341.90" stroke="#262626" stroke-width="0.6" />
<line x1="53.90" y1="340.59" x2="55.60" y2="340.59" stroke="#262626" stroke-width="0.6" />
<line x1="53.90" y1="339.43" x2="55.60" y2="339.43" stroke="#262626" stroke-width="0.6" />
<line x1="53.90" y1="331.60" x2="55.60" y2="331.60" stroke="#262626" stroke-width="0.6" />
<line x1="53.00" y1="310.20" x2="55.60" y2="310.20" stroke="#262626" stroke-width="0.9" />
<text x="50.20" y="312.40" font-size="6.0" text-anchor="end" fill="#2e2e2e" font-weight="normal" stroke="#2e2e2e" stroke-width="0.12" >100</text>
<line x1="53.00" y1="338.40" x2="55.60" y2="338.40" stroke="#262626" stroke-width="0.9" />
<text x="50.20" y="340.60" font-size="6.0" text-anchor="end" fill="#2e2e2e" font-weight="normal" stroke="#2e2e2e" stroke-width="0.12" >10</text>
<line x1="53.00" y1="361.00" x2="55.60" y2="361.00" stroke="#262626" stroke-width="0.9" />
<text x="50.20" y="363.20" font-size="6.0" text-anchor="end" fill="#2e2e2e" font-weight="normal" stroke="#2e2e2e" stroke-width="0.12" >1</text>
<line x1="65.80" y1="361.20" x2="65.80" y2="363.70" stroke="#262626" stroke-width="0.9" />
<line x1="87.42" y1="361.20" x2="87.42" y2="363.70" stroke="#262626" stroke-width="0.9" />
<line x1="109.04" y1="361.20" x2="109.04" y2="363.70" stroke="#262626" stroke-width="0.9" />
<line x1="130.66" y1="361.20" x2="130.66" y2="363.70" stroke="#262626" stroke-width="0.9" />
<line x1="152.28" y1="361.20" x2="152.28" y2="363.70" stroke="#262626" stroke-width="0.9" />
<line x1="173.90" y1="361.20" x2="173.90" y2="363.70" stroke="#262626" stroke-width="0.9" />
<text transform="translate(13.60,320.40) rotate(-90)" font-size="7.4" text-anchor="middle" fill="#2e2e2e" stroke="#2e2e2e" stroke-width="0.12" textLength="64.0" lengthAdjust="spacingAndGlyphs">Vδ2<tspan font-size="4.3" dy="-2.3">+</tspan><tspan dy="2.3">​</tspan> expansion index</text>
<text transform="translate(22.60,320.45) rotate(-90)" font-size="7.4" text-anchor="middle" fill="#2e2e2e" stroke="#2e2e2e" stroke-width="0.12" textLength="66.8" lengthAdjust="spacingAndGlyphs">(fold-expansion of whole</text>
<text transform="translate(32.40,318.35) rotate(-90)" font-size="7.4" text-anchor="middle" fill="#2e2e2e" stroke="#2e2e2e" stroke-width="0.12" textLength="62.6" lengthAdjust="spacingAndGlyphs">Vδ2<tspan font-size="4.3" dy="-2.3">+</tspan><tspan dy="2.3">​</tspan> cells population)</text>
<text x="24.00" y="372.00" font-size="6.3" text-anchor="start" fill="#2e2e2e" font-weight="normal" stroke="#2e2e2e" stroke-width="0.12" textLength="32.3">FeSO<tspan font-size="4.3" dy="1.7">4</tspan><tspan dy="-1.7">​</tspan> [µM]</text>
<text x="24.00" y="383.20" font-size="6.3" text-anchor="start" fill="#2e2e2e" font-weight="normal" stroke="#2e2e2e" stroke-width="0.12" >ZOL</text>
<text x="65.80" y="372.00" font-size="6.3" text-anchor="middle" fill="#2e2e2e" font-weight="normal" stroke="#2e2e2e" stroke-width="0.12" >0</text>
<text x="65.80" y="382.20" font-size="6.3" text-anchor="middle" fill="#2e2e2e" font-weight="normal" stroke="#2e2e2e" stroke-width="0.12" >–</text>
<text x="87.42" y="372.00" font-size="6.3" text-anchor="middle" fill="#2e2e2e" font-weight="normal" stroke="#2e2e2e" stroke-width="0.12" >10</text>
<text x="87.42" y="382.20" font-size="6.3" text-anchor="middle" fill="#2e2e2e" font-weight="normal" stroke="#2e2e2e" stroke-width="0.12" >–</text>
<text x="109.04" y="372.00" font-size="6.3" text-anchor="middle" fill="#2e2e2e" font-weight="normal" stroke="#2e2e2e" stroke-width="0.12" >25</text>
<text x="109.04" y="382.20" font-size="6.3" text-anchor="middle" fill="#2e2e2e" font-weight="normal" stroke="#2e2e2e" stroke-width="0.12" >–</text>
<text x="130.66" y="372.00" font-size="6.3" text-anchor="middle" fill="#2e2e2e" font-weight="normal" stroke="#2e2e2e" stroke-width="0.12" >50</text>
<text x="130.66" y="382.20" font-size="6.3" text-anchor="middle" fill="#2e2e2e" font-weight="normal" stroke="#2e2e2e" stroke-width="0.12" >–</text>
<text x="152.28" y="372.00" font-size="6.3" text-anchor="middle" fill="#2e2e2e" font-weight="normal" stroke="#2e2e2e" stroke-width="0.12" >100</text>
<text x="152.28" y="382.20" font-size="6.3" text-anchor="middle" fill="#2e2e2e" font-weight="normal" stroke="#2e2e2e" stroke-width="0.12" >–</text>
<text x="173.90" y="372.00" font-size="6.3" text-anchor="middle" fill="#2e2e2e" font-weight="normal" stroke="#2e2e2e" stroke-width="0.12" >–</text>
<text x="173.90" y="383.20" font-size="6.3" text-anchor="middle" fill="#2e2e2e" font-weight="normal" stroke="#2e2e2e" stroke-width="0.12" >ZOL</text>
<line x1="59.80" y1="339.43" x2="59.80" y2="342.93" stroke="#284f8c" stroke-width="0.6" />
<rect x="58.15" y="339.63" width="3.30" height="3.30" fill="#b4c3e0" />
<rect x="64.15" y="351.62" width="3.30" height="2.58" fill="#f3b9ab" />
<rect x="58.15" y="342.93" width="3.30" height="18.27" fill="#6677ae" />
<circle cx="59.80" cy="339.43" r="0.8" fill="#284f8c" />
<circle cx="59.20" cy="340.59" r="0.8" fill="#284f8c" />
<circle cx="60.40" cy="341.90" r="0.8" fill="#284f8c" />
<circle cx="59.50" cy="343.41" r="0.8" fill="#284f8c" />
<circle cx="60.10" cy="345.20" r="0.8" fill="#284f8c" />
<circle cx="59.80" cy="346.24" r="0.8" fill="#284f8c" />
<circle cx="59.20" cy="347.39" r="0.8" fill="#284f8c" />
<line x1="57.80" y1="342.93" x2="61.80" y2="342.93" stroke="#284f8c" stroke-width="1.1" />
<line x1="65.80" y1="348.99" x2="65.80" y2="354.20" stroke="#cf2a2e" stroke-width="0.6" />
<rect x="64.15" y="354.20" width="3.30" height="7.00" fill="#e98474" />
<circle cx="65.80" cy="348.99" r="0.8" fill="#cf2a2e" />
<circle cx="65.20" cy="351.62" r="0.8" fill="#cf2a2e" />
<circle cx="66.40" cy="353.26" r="0.8" fill="#cf2a2e" />
<circle cx="65.50" cy="354.20" r="0.8" fill="#cf2a2e" />
<circle cx="66.10" cy="355.23" r="0.8" fill="#cf2a2e" />
<rect x="69.95" y="354.20" width="3.30" height="7.00" fill="#b6e2ae" />
<line x1="71.60" y1="350.22" x2="71.60" y2="354.20" stroke="#52be52" stroke-width="0.5" />
<circle cx="71.60" cy="350.22" r="1.0" fill="none" stroke="#52be52" stroke-width="0.6"/>
<circle cx="71.00" cy="351.62" r="1.0" fill="none" stroke="#52be52" stroke-width="0.6"/>
<circle cx="72.20" cy="352.82" r="1.0" fill="none" stroke="#52be52" stroke-width="0.6"/>
<circle cx="71.30" cy="354.20" r="1.0" fill="none" stroke="#52be52" stroke-width="0.6"/>
<circle cx="71.90" cy="355.23" r="1.0" fill="none" stroke="#52be52" stroke-width="0.6"/>
<circle cx="71.60" cy="356.39" r="1.0" fill="none" stroke="#52be52" stroke-width="0.6"/>
<circle cx="71.00" cy="357.70" r="1.0" fill="none" stroke="#52be52" stroke-width="0.6"/>
<line x1="81.42" y1="332.63" x2="81.42" y2="335.82" stroke="#284f8c" stroke-width="0.6" />
<rect x="79.77" y="332.52" width="3.30" height="3.30" fill="#b4c3e0" />
<rect x="85.77" y="350.69" width="3.30" height="2.58" fill="#f3b9ab" />
<rect x="79.77" y="335.82" width="3.30" height="25.38" fill="#6677ae" />
<circle cx="81.42" cy="332.63" r="0.8" fill="#284f8c" />
<circle cx="80.82" cy="333.79" r="0.8" fill="#284f8c" />
<circle cx="82.02" cy="335.10" r="0.8" fill="#284f8c" />
<circle cx="81.12" cy="336.61" r="0.8" fill="#284f8c" />
<circle cx="81.72" cy="338.40" r="0.8" fill="#284f8c" />
<circle cx="81.42" cy="340.59" r="0.8" fill="#284f8c" />
<circle cx="80.82" cy="342.63" r="0.8" fill="#284f8c" />
<line x1="79.42" y1="335.82" x2="83.42" y2="335.82" stroke="#284f8c" stroke-width="1.1" />
<line x1="87.42" y1="347.90" x2="87.42" y2="353.26" stroke="#cf2a2e" stroke-width="0.6" />
<rect x="85.77" y="353.26" width="3.30" height="7.94" fill="#e98474" />
<circle cx="87.42" cy="347.90" r="0.8" fill="#cf2a2e" />
<circle cx="86.82" cy="351.25" r="0.8" fill="#cf2a2e" />
<circle cx="88.02" cy="352.82" r="0.8" fill="#cf2a2e" />
<circle cx="87.12" cy="354.20" r="0.8" fill="#cf2a2e" />
<circle cx="87.72" cy="355.23" r="0.8" fill="#cf2a2e" />
<rect x="91.57" y="354.70" width="3.30" height="6.50" fill="#b6e2ae" />
<line x1="93.22" y1="350.89" x2="93.22" y2="354.70" stroke="#52be52" stroke-width="0.5" />
<circle cx="93.22" cy="350.89" r="1.0" fill="none" stroke="#52be52" stroke-width="0.6"/>
<circle cx="92.62" cy="352.41" r="1.0" fill="none" stroke="#52be52" stroke-width="0.6"/>
<circle cx="93.82" cy="353.72" r="1.0" fill="none" stroke="#52be52" stroke-width="0.6"/>
<circle cx="92.92" cy="354.70" r="1.0" fill="none" stroke="#52be52" stroke-width="0.6"/>
<circle cx="93.52" cy="355.79" r="1.0" fill="none" stroke="#52be52" stroke-width="0.6"/>
<circle cx="93.22" cy="357.02" r="1.0" fill="none" stroke="#52be52" stroke-width="0.6"/>
<circle cx="92.62" cy="358.42" r="1.0" fill="none" stroke="#52be52" stroke-width="0.6"/>
<line x1="103.04" y1="312.33" x2="103.04" y2="321.39" stroke="#284f8c" stroke-width="0.6" />
<rect x="101.39" y="318.18" width="3.30" height="3.21" fill="#b4c3e0" />
<rect x="107.39" y="351.14" width="3.30" height="2.58" fill="#f3b9ab" />
<rect x="101.39" y="327.60" width="3.30" height="33.60" fill="#6677ae" />
<rect x="101.39" y="324.80" width="3.30" height="2.80" fill="#e4e8f1" />
<rect x="101.39" y="321.39" width="3.30" height="3.41" fill="#6677ae" />
<circle cx="103.04" cy="312.33" r="0.8" fill="#284f8c" />
<circle cx="102.44" cy="314.77" r="0.8" fill="#284f8c" />
<circle cx="103.64" cy="316.82" r="0.8" fill="#284f8c" />
<circle cx="102.74" cy="318.49" r="0.8" fill="#284f8c" />
<circle cx="103.34" cy="319.96" r="0.8" fill="#284f8c" />
<circle cx="103.04" cy="330.66" r="0.8" fill="#284f8c" />
<circle cx="102.44" cy="332.63" r="0.8" fill="#284f8c" />
<circle cx="103.64" cy="335.10" r="0.8" fill="#284f8c" />
<line x1="101.04" y1="321.39" x2="105.04" y2="321.39" stroke="#284f8c" stroke-width="1.1" />
<line x1="109.04" y1="351.62" x2="109.04" y2="353.72" stroke="#cf2a2e" stroke-width="0.6" />
<rect x="107.39" y="353.72" width="3.30" height="7.48" fill="#e98474" />
<circle cx="109.04" cy="351.62" r="0.8" fill="#cf2a2e" />
<circle cx="108.44" cy="352.82" r="0.8" fill="#cf2a2e" />
<circle cx="109.64" cy="353.72" r="0.8" fill="#cf2a2e" />
<circle cx="108.74" cy="354.70" r="0.8" fill="#cf2a2e" />
<rect x="113.19" y="353.72" width="3.30" height="7.48" fill="#b6e2ae" />
<line x1="114.84" y1="350.55" x2="114.84" y2="353.72" stroke="#52be52" stroke-width="0.5" />
<circle cx="114.84" cy="350.55" r="1.0" fill="none" stroke="#52be52" stroke-width="0.6"/>
<circle cx="114.24" cy="352.01" r="1.0" fill="none" stroke="#52be52" stroke-width="0.6"/>
<circle cx="115.44" cy="353.26" r="1.0" fill="none" stroke="#52be52" stroke-width="0.6"/>
<circle cx="114.54" cy="354.70" r="1.0" fill="none" stroke="#52be52" stroke-width="0.6"/>
<circle cx="115.14" cy="355.79" r="1.0" fill="none" stroke="#52be52" stroke-width="0.6"/>
<circle cx="114.84" cy="357.02" r="1.0" fill="none" stroke="#52be52" stroke-width="0.6"/>
<line x1="124.66" y1="307.69" x2="124.66" y2="321.09" stroke="#284f8c" stroke-width="0.6" />
<rect x="123.01" y="317.87" width="3.30" height="3.21" fill="#b4c3e0" />
<rect x="129.01" y="347.32" width="3.30" height="2.58" fill="#f3b9ab" />
<rect x="123.01" y="327.60" width="3.30" height="33.60" fill="#6677ae" />
<rect x="123.01" y="324.80" width="3.30" height="2.80" fill="#e4e8f1" />
<rect x="123.01" y="321.09" width="3.30" height="3.71" fill="#6677ae" />
<circle cx="124.66" cy="307.69" r="0.8" fill="#284f8c" />
<circle cx="124.06" cy="310.69" r="0.8" fill="#284f8c" />
<circle cx="125.26" cy="313.61" r="0.8" fill="#284f8c" />
<circle cx="124.36" cy="315.91" r="0.8" fill="#284f8c" />
<circle cx="124.96" cy="317.83" r="0.8" fill="#284f8c" />
<circle cx="124.66" cy="319.44" r="0.8" fill="#284f8c" />
<circle cx="124.06" cy="330.66" r="0.8" fill="#284f8c" />
<circle cx="125.26" cy="332.63" r="0.8" fill="#284f8c" />
<circle cx="124.36" cy="335.10" r="0.8" fill="#284f8c" />
<line x1="122.66" y1="321.09" x2="126.66" y2="321.09" stroke="#284f8c" stroke-width="1.1" />
<line x1="130.66" y1="346.02" x2="130.66" y2="349.90" stroke="#cf2a2e" stroke-width="0.6" />
<rect x="129.01" y="349.90" width="3.30" height="11.30" fill="#e98474" />
<circle cx="130.66" cy="346.02" r="0.8" fill="#cf2a2e" />
<circle cx="130.06" cy="348.43" r="0.8" fill="#cf2a2e" />
<circle cx="131.26" cy="349.90" r="0.8" fill="#cf2a2e" />
<circle cx="130.36" cy="351.62" r="0.8" fill="#cf2a2e" />
<rect x="134.81" y="350.55" width="3.30" height="10.65" fill="#b6e2ae" />
<line x1="136.46" y1="349.58" x2="136.46" y2="350.55" stroke="#52be52" stroke-width="0.5" />
<circle cx="136.46" cy="349.58" r="1.0" fill="none" stroke="#52be52" stroke-width="0.6"/>
<circle cx="135.86" cy="350.89" r="1.0" fill="none" stroke="#52be52" stroke-width="0.6"/>
<circle cx="137.06" cy="352.41" r="1.0" fill="none" stroke="#52be52" stroke-width="0.6"/>
<circle cx="136.16" cy="353.72" r="1.0" fill="none" stroke="#52be52" stroke-width="0.6"/>
<circle cx="136.76" cy="355.23" r="1.0" fill="none" stroke="#52be52" stroke-width="0.6"/>
<circle cx="136.46" cy="357.02" r="1.0" fill="none" stroke="#52be52" stroke-width="0.6"/>
<line x1="146.28" y1="310.20" x2="146.28" y2="321.09" stroke="#284f8c" stroke-width="0.6" />
<rect x="144.63" y="317.87" width="3.30" height="3.21" fill="#b4c3e0" />
<rect x="150.63" y="342.24" width="3.30" height="2.58" fill="#f3b9ab" />
<rect x="144.63" y="327.60" width="3.30" height="33.60" fill="#6677ae" />
<rect x="144.63" y="324.80" width="3.30" height="2.80" fill="#e4e8f1" />
<rect x="144.63" y="321.09" width="3.30" height="3.71" fill="#6677ae" />
<circle cx="146.28" cy="310.20" r="0.8" fill="#284f8c" />
<circle cx="145.68" cy="312.33" r="0.8" fill="#284f8c" />
<circle cx="146.88" cy="314.32" r="0.8" fill="#284f8c" />
<circle cx="145.98" cy="316.45" r="0.8" fill="#284f8c" />
<circle cx="146.58" cy="318.04" r="0.8" fill="#284f8c" />
<circle cx="146.28" cy="319.44" r="0.8" fill="#284f8c" />
<circle cx="145.68" cy="330.66" r="0.8" fill="#284f8c" />
<circle cx="146.88" cy="333.19" r="0.8" fill="#284f8c" />
<circle cx="145.98" cy="335.82" r="0.8" fill="#284f8c" />
<line x1="144.28" y1="321.09" x2="148.28" y2="321.09" stroke="#284f8c" stroke-width="1.1" />
<line x1="152.28" y1="344.09" x2="152.28" y2="344.82" stroke="#cf2a2e" stroke-width="0.6" />
<rect x="150.63" y="344.82" width="3.30" height="16.38" fill="#e98474" />
<circle cx="152.28" cy="344.09" r="0.8" fill="#cf2a2e" />
<circle cx="151.68" cy="345.20" r="0.8" fill="#cf2a2e" />
<circle cx="152.88" cy="346.46" r="0.8" fill="#cf2a2e" />
<rect x="156.43" y="350.55" width="3.30" height="10.65" fill="#b6e2ae" />
<line x1="158.08" y1="349.58" x2="158.08" y2="350.55" stroke="#52be52" stroke-width="0.5" />
<circle cx="158.08" cy="349.58" r="1.0" fill="none" stroke="#52be52" stroke-width="0.6"/>
<circle cx="157.48" cy="350.89" r="1.0" fill="none" stroke="#52be52" stroke-width="0.6"/>
<circle cx="158.68" cy="352.41" r="1.0" fill="none" stroke="#52be52" stroke-width="0.6"/>
<circle cx="157.78" cy="353.72" r="1.0" fill="none" stroke="#52be52" stroke-width="0.6"/>
<circle cx="158.38" cy="355.23" r="1.0" fill="none" stroke="#52be52" stroke-width="0.6"/>
<circle cx="158.08" cy="357.02" r="1.0" fill="none" stroke="#52be52" stroke-width="0.6"/>
<line x1="167.90" y1="311.21" x2="167.90" y2="317.83" stroke="#284f8c" stroke-width="0.6" />
<rect x="166.25" y="314.61" width="3.30" height="3.21" fill="#b4c3e0" />
<rect x="172.25" y="337.08" width="3.30" height="2.58" fill="#f3b9ab" />
<rect x="166.25" y="327.60" width="3.30" height="33.60" fill="#6677ae" />
<rect x="166.25" y="324.80" width="3.30" height="2.80" fill="#e4e8f1" />
<rect x="166.25" y="317.83" width="3.30" height="6.97" fill="#6677ae" />
<circle cx="167.90" cy="311.21" r="0.8" fill="#284f8c" />
<circle cx="167.30" cy="312.33" r="0.8" fill="#284f8c" />
<circle cx="168.50" cy="313.61" r="0.8" fill="#284f8c" />
<circle cx="167.60" cy="315.08" r="0.8" fill="#284f8c" />
<circle cx="168.20" cy="316.45" r="0.8" fill="#284f8c" />
<circle cx="167.90" cy="317.83" r="0.8" fill="#284f8c" />
<circle cx="167.30" cy="329.81" r="0.8" fill="#284f8c" />
<circle cx="168.50" cy="332.63" r="0.8" fill="#284f8c" />
<line x1="165.90" y1="317.83" x2="169.90" y2="317.83" stroke="#284f8c" stroke-width="1.1" />
<line x1="173.90" y1="339.01" x2="173.90" y2="339.65" stroke="#cf2a2e" stroke-width="0.6" />
<rect x="172.25" y="339.65" width="3.30" height="21.55" fill="#e98474" />
<circle cx="173.90" cy="339.01" r="0.8" fill="#cf2a2e" />
<circle cx="173.30" cy="340.59" r="0.8" fill="#cf2a2e" />
<circle cx="174.50" cy="342.63" r="0.8" fill="#cf2a2e" />
<circle cx="173.60" cy="345.20" r="0.8" fill="#cf2a2e" />
<rect x="178.05" y="350.55" width="3.30" height="10.65" fill="#b6e2ae" />
<line x1="179.70" y1="349.58" x2="179.70" y2="350.55" stroke="#52be52" stroke-width="0.5" />
<circle cx="179.70" cy="349.58" r="1.0" fill="none" stroke="#52be52" stroke-width="0.6"/>
<circle cx="179.10" cy="350.89" r="1.0" fill="none" stroke="#52be52" stroke-width="0.6"/>
<circle cx="180.30" cy="352.41" r="1.0" fill="none" stroke="#52be52" stroke-width="0.6"/>
<circle cx="179.40" cy="353.72" r="1.0" fill="none" stroke="#52be52" stroke-width="0.6"/>
<circle cx="180.00" cy="355.23" r="1.0" fill="none" stroke="#52be52" stroke-width="0.6"/>
<circle cx="179.70" cy="357.02" r="1.0" fill="none" stroke="#52be52" stroke-width="0.6"/>
<path d="M60.20 278.40V274.40H71.80V278.40" fill="none" stroke="#5e5e5e" stroke-width="0.95"/>
<text x="65.80" y="272.90" font-size="6.6" text-anchor="middle" fill="#2e2e2e" font-weight="normal" stroke="#2e2e2e" stroke-width="0.12" >ns</text>
<path d="M65.20 291.10V287.10H71.80V291.10" fill="none" stroke="#e55d89" stroke-width="0.95"/>
<text x="68.50" y="285.60" font-size="6.6" text-anchor="middle" fill="#e55d89" font-weight="normal" stroke="#e55d89" stroke-width="0.12" >ns</text>
<path d="M60.20 305.40V301.40H66.60V305.40" fill="none" stroke="#5e5e5e" stroke-width="0.95"/>
<text x="62.70" y="299.90" font-size="6.6" text-anchor="middle" fill="#2e2e2e" font-weight="normal" stroke="#2e2e2e" stroke-width="0.12" >ns</text>
<path d="M81.82 278.40V274.40H93.42V278.40" fill="none" stroke="#5e5e5e" stroke-width="0.95"/>
<text x="87.42" y="272.90" font-size="6.6" text-anchor="middle" fill="#2e2e2e" font-weight="normal" stroke="#2e2e2e" stroke-width="0.12" >ns</text>
<path d="M86.82 291.10V287.10H93.42V291.10" fill="none" stroke="#e55d89" stroke-width="0.95"/>
<text x="90.12" y="285.60" font-size="6.6" text-anchor="middle" fill="#e55d89" font-weight="normal" stroke="#e55d89" stroke-width="0.12" >ns</text>
<path d="M81.82 305.40V301.40H88.22V305.40" fill="none" stroke="#5e5e5e" stroke-width="0.95"/>
<text x="84.32" y="299.90" font-size="6.6" text-anchor="middle" fill="#2e2e2e" font-weight="normal" stroke="#2e2e2e" stroke-width="0.12" >ns</text>
<path d="M103.44 278.40V274.40H115.04V278.40" fill="none" stroke="#5e5e5e" stroke-width="0.95"/>
<text x="109.04" y="275.10" font-size="6.9" text-anchor="middle" fill="#2e2e2e" font-weight="normal" stroke="#2e2e2e" stroke-width="0.12" letter-spacing="0.15">**</text>
<path d="M108.44 291.10V287.10H115.04V291.10" fill="none" stroke="#e55d89" stroke-width="0.95"/>
<text x="111.74" y="285.60" font-size="6.6" text-anchor="middle" fill="#e55d89" font-weight="normal" stroke="#e55d89" stroke-width="0.12" >ns</text>
<path d="M103.44 305.40V301.40H109.84V305.40" fill="none" stroke="#5e5e5e" stroke-width="0.95"/>
<text x="105.94" y="302.10" font-size="6.9" text-anchor="middle" fill="#2e2e2e" font-weight="normal" stroke="#2e2e2e" stroke-width="0.12" letter-spacing="0.15">**</text>
<path d="M125.06 278.40V274.40H136.66V278.40" fill="none" stroke="#5e5e5e" stroke-width="0.95"/>
<text x="130.66" y="275.10" font-size="6.9" text-anchor="middle" fill="#2e2e2e" font-weight="normal" stroke="#2e2e2e" stroke-width="0.12" letter-spacing="0.15">****</text>
<path d="M130.06 291.10V287.10H136.66V291.10" fill="none" stroke="#e55d89" stroke-width="0.95"/>
<text x="133.36" y="285.60" font-size="6.6" text-anchor="middle" fill="#e55d89" font-weight="normal" stroke="#e55d89" stroke-width="0.12" >ns</text>
<path d="M125.06 305.40V301.40H131.46V305.40" fill="none" stroke="#5e5e5e" stroke-width="0.95"/>
<text x="127.56" y="302.10" font-size="6.9" text-anchor="middle" fill="#2e2e2e" font-weight="normal" stroke="#2e2e2e" stroke-width="0.12" letter-spacing="0.15">***</text>
<path d="M146.68 278.40V274.40H158.28V278.40" fill="none" stroke="#5e5e5e" stroke-width="0.95"/>
<text x="152.28" y="275.10" font-size="6.9" text-anchor="middle" fill="#2e2e2e" font-weight="normal" stroke="#2e2e2e" stroke-width="0.12" letter-spacing="0.15">****</text>
<path d="M151.68 291.10V287.10H158.28V291.10" fill="none" stroke="#e55d89" stroke-width="0.95"/>
<text x="154.98" y="285.60" font-size="6.6" text-anchor="middle" fill="#e55d89" font-weight="normal" stroke="#e55d89" stroke-width="0.12" >ns</text>
<path d="M146.68 305.40V301.40H153.08V305.40" fill="none" stroke="#5e5e5e" stroke-width="0.95"/>
<text x="149.18" y="302.10" font-size="6.9" text-anchor="middle" fill="#2e2e2e" font-weight="normal" stroke="#2e2e2e" stroke-width="0.12" letter-spacing="0.15">***</text>
<path d="M168.30 278.40V274.40H179.90V278.40" fill="none" stroke="#5e5e5e" stroke-width="0.95"/>
<text x="173.90" y="275.10" font-size="6.9" text-anchor="middle" fill="#2e2e2e" font-weight="normal" stroke="#2e2e2e" stroke-width="0.12" letter-spacing="0.15">****</text>
<path d="M173.30 291.10V287.10H179.90V291.10" fill="none" stroke="#e55d89" stroke-width="0.95"/>
<text x="176.60" y="285.60" font-size="6.6" text-anchor="middle" fill="#e55d89" font-weight="normal" stroke="#e55d89" stroke-width="0.12" >ns</text>
<path d="M168.30 305.40V301.40H174.70V305.40" fill="none" stroke="#5e5e5e" stroke-width="0.95"/>
<text x="170.80" y="302.10" font-size="6.9" text-anchor="middle" fill="#2e2e2e" font-weight="normal" stroke="#2e2e2e" stroke-width="0.12" letter-spacing="0.15">***</text>
<text x="384.10" y="29.50" font-size="8.5" text-anchor="middle" fill="#2e2e2e" font-weight="normal" stroke="#2e2e2e" stroke-width="0.12" textLength="100.4">ALP transcriptional activity</text>
<text x="409.40" y="40.20" font-size="6.2" text-anchor="middle" fill="#2e2e2e" font-weight="normal" stroke="#2e2e2e" stroke-width="0.12" textLength="33.0">FeSO<tspan font-size="4.3" dy="1.5">4</tspan><tspan dy="-1.5">​</tspan> [µM]</text>
<text x="383.00" y="49.70" font-size="6.4" text-anchor="middle" fill="#2e2e2e" font-weight="normal" stroke="#2e2e2e" stroke-width="0.12" >0</text>
<text x="411.00" y="49.70" font-size="6.4" text-anchor="middle" fill="#2e2e2e" font-weight="normal" stroke="#2e2e2e" stroke-width="0.12" >50</text>
<text x="436.50" y="49.70" font-size="6.4" text-anchor="middle" fill="#2e2e2e" font-weight="normal" stroke="#2e2e2e" stroke-width="0.12" >100</text>
<text x="292.00" y="50.10" font-size="6.4" text-anchor="start" fill="#2e2e2e" font-weight="normal" stroke="#2e2e2e" stroke-width="0.12" textLength="31.6">Tissue type</text>
<rect x="288.30" y="53.90" width="39.80" height="134.90" fill="#e3eaf3" />
<line x1="288.30" y1="131.80" x2="328.10" y2="131.80" stroke="#ffffff" stroke-width="1.0" />
<text x="292.00" y="63.20" font-size="6.4" text-anchor="start" fill="#2e2e2e" font-weight="normal" stroke="#2e2e2e" stroke-width="0.12" textLength="19.4">Muscle</text>
<text x="292.00" y="82.60" font-size="6.4" text-anchor="start" fill="#2e2e2e" font-weight="normal" stroke="#2e2e2e" stroke-width="0.12" textLength="24.9">Pancreas</text>
<text x="292.00" y="101.80" font-size="6.4" text-anchor="start" fill="#2e2e2e" font-weight="normal" stroke="#2e2e2e" stroke-width="0.12" textLength="14.2">Bone</text>
<text x="292.00" y="141.50" font-size="6.4" text-anchor="start" fill="#2e2e2e" font-weight="normal" stroke="#2e2e2e" stroke-width="0.12" textLength="13.4">Liver</text>
<text x="331.30" y="62.00" font-size="6.4" text-anchor="start" fill="#2e2e2e" font-weight="normal" stroke="#2e2e2e" stroke-width="0.12" >RH30</text>
<text x="331.30" y="81.80" font-size="6.4" text-anchor="start" fill="#2e2e2e" font-weight="normal" stroke="#2e2e2e" stroke-width="0.12" >PANC-1</text>
<text x="331.30" y="101.70" font-size="6.4" text-anchor="start" fill="#2e2e2e" font-weight="normal" stroke="#2e2e2e" stroke-width="0.12" >SaOS2</text>
<text x="331.30" y="119.60" font-size="6.4" text-anchor="start" fill="#2e2e2e" font-weight="normal" stroke="#2e2e2e" stroke-width="0.12" >Primary</text>
<text x="331.30" y="128.70" font-size="6.4" text-anchor="start" fill="#2e2e2e" font-weight="normal" stroke="#2e2e2e" stroke-width="0.12" >Osteoblasts</text>
<text x="331.30" y="139.80" font-size="6.4" text-anchor="start" fill="#2e2e2e" font-weight="normal" stroke="#2e2e2e" stroke-width="0.12" >HUH7</text>
<text x="331.30" y="159.50" font-size="6.4" text-anchor="start" fill="#2e2e2e" font-weight="normal" stroke="#2e2e2e" stroke-width="0.12" >HepaRG</text>
<text x="331.30" y="178.30" font-size="6.4" text-anchor="start" fill="#2e2e2e" font-weight="normal" stroke="#2e2e2e" stroke-width="0.12" >HepG2</text>
<rect x="368.60" y="54.20" width="27.65" height="19.28" fill="#303ea6" />
<rect x="396.20" y="54.20" width="27.55" height="19.28" fill="#3543a7" />
<rect x="423.70" y="54.20" width="25.25" height="19.28" fill="#b7c4e5" />
<rect x="368.60" y="73.43" width="27.65" height="19.28" fill="#303ea6" />
<rect x="396.20" y="73.43" width="27.55" height="19.28" fill="#3341a7" />
<rect x="423.70" y="73.43" width="25.25" height="19.28" fill="#18145c" />
<rect x="368.60" y="92.66" width="27.65" height="19.28" fill="#303ea6" />
<rect x="396.20" y="92.66" width="27.55" height="19.28" fill="#3644a8" />
<rect x="423.70" y="92.66" width="25.25" height="19.28" fill="#4453ae" />
<rect x="368.60" y="111.89" width="27.65" height="19.28" fill="#303ea6" />
<rect x="396.20" y="111.89" width="27.55" height="19.28" fill="#4352ae" />
<rect x="423.70" y="111.89" width="25.25" height="19.28" fill="#3a48a9" />
<rect x="368.60" y="131.12" width="27.65" height="19.28" fill="#303ea6" />
<rect x="396.20" y="131.12" width="27.55" height="19.28" fill="#c7d3eb" />
<rect x="423.70" y="131.12" width="25.25" height="19.28" fill="#a6b4de" />
<rect x="368.60" y="150.35" width="27.65" height="19.28" fill="#303ea6" />
<rect x="396.20" y="150.35" width="27.55" height="19.28" fill="#dee5f1" />
<rect x="423.70" y="150.35" width="25.25" height="19.28" fill="#7685c6" />
<rect x="368.60" y="169.58" width="27.65" height="19.28" fill="#303ea6" />
<rect x="396.20" y="169.58" width="27.55" height="19.28" fill="#3b49a9" />
<rect x="423.70" y="169.58" width="25.25" height="19.28" fill="#dee5f1" />
<text x="383.20" y="66.62" font-size="6.4" text-anchor="middle" fill="#98a4dc" font-weight="normal" stroke="#98a4dc" stroke-width="0.1" >1.0</text>
<text x="410.75" y="66.62" font-size="6.4" text-anchor="middle" fill="#98a4dc" font-weight="normal" stroke="#98a4dc" stroke-width="0.1" >0.89</text>
<text x="437.10" y="66.62" font-size="6.4" text-anchor="middle" fill="#cbd5ee" font-weight="normal" stroke="#cbd5ee" stroke-width="0.1" >0.17</text>
<text x="383.20" y="85.84" font-size="6.4" text-anchor="middle" fill="#98a4dc" font-weight="normal" stroke="#98a4dc" stroke-width="0.1" >1.0</text>
<text x="410.75" y="85.84" font-size="6.4" text-anchor="middle" fill="#98a4dc" font-weight="normal" stroke="#98a4dc" stroke-width="0.1" >0.93</text>
<text x="437.10" y="85.84" font-size="6.4" text-anchor="middle" fill="#b9bde6" font-weight="normal" stroke="#b9bde6" stroke-width="0.1" >1.53</text>
<text x="383.20" y="105.08" font-size="6.4" text-anchor="middle" fill="#98a4dc" font-weight="normal" stroke="#98a4dc" stroke-width="0.1" >1.0</text>
<text x="410.75" y="105.08" font-size="6.4" text-anchor="middle" fill="#98a4dc" font-weight="normal" stroke="#98a4dc" stroke-width="0.1" >0.87</text>
<text x="437.10" y="105.08" font-size="6.4" text-anchor="middle" fill="#98a4dc" font-weight="normal" stroke="#98a4dc" stroke-width="0.1" >0.69</text>
<text x="383.20" y="124.30" font-size="6.4" text-anchor="middle" fill="#98a4dc" font-weight="normal" stroke="#98a4dc" stroke-width="0.1" >1.0</text>
<text x="410.75" y="124.30" font-size="6.4" text-anchor="middle" fill="#98a4dc" font-weight="normal" stroke="#98a4dc" stroke-width="0.1" >0.7</text>
<text x="437.10" y="124.30" font-size="6.4" text-anchor="middle" fill="#98a4dc" font-weight="normal" stroke="#98a4dc" stroke-width="0.1" >0.8</text>
<text x="383.20" y="143.54" font-size="6.4" text-anchor="middle" fill="#98a4dc" font-weight="normal" stroke="#98a4dc" stroke-width="0.1" >1.0</text>
<text x="410.75" y="143.54" font-size="6.4" text-anchor="middle" fill="#aab8da" font-weight="normal" stroke="#aab8da" stroke-width="0.1" >0.07</text>
<text x="437.10" y="143.54" font-size="6.4" text-anchor="middle" fill="#cfd8f1" font-weight="normal" stroke="#cfd8f1" stroke-width="0.1" >0.25</text>
<text x="383.20" y="162.77" font-size="6.4" text-anchor="middle" fill="#98a4dc" font-weight="normal" stroke="#98a4dc" stroke-width="0.1" >1.0</text>
<text x="410.75" y="162.77" font-size="6.4" text-anchor="middle" fill="#c6cfe2" font-weight="normal" stroke="#c6cfe2" stroke-width="0.1" >0</text>
<text x="437.10" y="162.77" font-size="6.4" text-anchor="middle" fill="#b9c3ea" font-weight="normal" stroke="#b9c3ea" stroke-width="0.1" >0.5</text>
<text x="383.20" y="182.00" font-size="6.4" text-anchor="middle" fill="#98a4dc" font-weight="normal" stroke="#98a4dc" stroke-width="0.1" >1.0</text>
<text x="410.75" y="182.00" font-size="6.4" text-anchor="middle" fill="#98a4dc" font-weight="normal" stroke="#98a4dc" stroke-width="0.1" >0.79</text>
<text x="437.10" y="182.00" font-size="6.4" text-anchor="middle" fill="#c6cfe2" font-weight="normal" stroke="#c6cfe2" stroke-width="0.1" >0</text>
<line x1="396.20" y1="54.20" x2="396.20" y2="92.70" stroke="#1c2680" stroke-width="0.9" />
<line x1="368.60" y1="73.40" x2="449.00" y2="73.40" stroke="#1c2680" stroke-width="0.9" />
<defs><linearGradient id="cb" x1="0" y1="0" x2="0" y2="1"><stop offset="0.000" stop-color="#263096"/><stop offset="0.200" stop-color="#2c389e"/><stop offset="0.400" stop-color="#3744a6"/><stop offset="0.600" stop-color="#505fb4"/><stop offset="0.800" stop-color="#7686ca"/><stop offset="0.920" stop-color="#9bacde"/><stop offset="1.000" stop-color="#c2d1ef"/></linearGradient></defs>
<rect x="458.9" y="52.9" width="8.2" height="135.0" fill="url(#cb)" stroke="#3c4898" stroke-width="0.8"/>
<rect x="459.50" y="53.40" width="7.00" height="1.40" fill="#9eaadc" />
<rect x="462.20" y="55.00" width="1.60" height="130.00" fill="#ffffff" opacity="0.08"/>
<line x1="466.00" y1="52.70" x2="467.10" y2="52.70" stroke="#3a4690" stroke-width="0.5" />
<text x="470.80" y="54.90" font-size="6.3" text-anchor="start" fill="#2e2e2e" font-weight="normal" stroke="#2e2e2e" stroke-width="0.12" >1.0</text>
<line x1="466.00" y1="79.75" x2="467.10" y2="79.75" stroke="#3a4690" stroke-width="0.5" />
<text x="470.80" y="81.95" font-size="6.3" text-anchor="start" fill="#2e2e2e" font-weight="normal" stroke="#2e2e2e" stroke-width="0.12" >0.8</text>
<line x1="466.00" y1="106.80" x2="467.10" y2="106.80" stroke="#3a4690" stroke-width="0.5" />
<text x="470.80" y="109.00" font-size="6.3" text-anchor="start" fill="#2e2e2e" font-weight="normal" stroke="#2e2e2e" stroke-width="0.12" >0.6</text>
<line x1="466.00" y1="133.85" x2="467.10" y2="133.85" stroke="#3a4690" stroke-width="0.5" />
<text x="470.80" y="136.05" font-size="6.3" text-anchor="start" fill="#2e2e2e" font-weight="normal" stroke="#2e2e2e" stroke-width="0.12" >0.4</text>
<line x1="466.00" y1="160.90" x2="467.10" y2="160.90" stroke="#3a4690" stroke-width="0.5" />
<text x="470.80" y="163.10" font-size="6.3" text-anchor="start" fill="#2e2e2e" font-weight="normal" stroke="#2e2e2e" stroke-width="0.12" >0.2</text>
<line x1="466.00" y1="187.95" x2="467.10" y2="187.95" stroke="#3a4690" stroke-width="0.5" />
<text x="470.80" y="190.15" font-size="6.3" text-anchor="start" fill="#2e2e2e" font-weight="normal" stroke="#2e2e2e" stroke-width="0.12" >0</text>
<line x1="261.50" y1="275.20" x2="261.50" y2="350.90" stroke="#262626" stroke-width="1.2" />
<line x1="260.90" y1="350.30" x2="311.50" y2="350.30" stroke="#262626" stroke-width="1.2" />
<line x1="258.20" y1="350.30" x2="261.50" y2="350.30" stroke="#262626" stroke-width="0.9" />
<text x="255.00" y="352.40" font-size="6.0" text-anchor="end" fill="#2e2e2e" font-weight="normal" stroke="#2e2e2e" stroke-width="0.12" >0</text>
<line x1="258.20" y1="325.70" x2="261.50" y2="325.70" stroke="#262626" stroke-width="0.9" />
<text x="255.00" y="327.80" font-size="6.0" text-anchor="end" fill="#2e2e2e" font-weight="normal" stroke="#2e2e2e" stroke-width="0.12" >10</text>
<line x1="258.20" y1="301.10" x2="261.50" y2="301.10" stroke="#262626" stroke-width="0.9" />
<text x="255.00" y="303.20" font-size="6.0" text-anchor="end" fill="#2e2e2e" font-weight="normal" stroke="#2e2e2e" stroke-width="0.12" >20</text>
<line x1="258.20" y1="276.50" x2="261.50" y2="276.50" stroke="#262626" stroke-width="0.9" />
<text x="255.00" y="278.60" font-size="6.0" text-anchor="end" fill="#2e2e2e" font-weight="normal" stroke="#2e2e2e" stroke-width="0.12" >30</text>
<line x1="271.50" y1="350.30" x2="271.50" y2="352.80" stroke="#262626" stroke-width="0.9" />
<text x="271.50" y="362.00" font-size="6.4" text-anchor="middle" fill="#2e2e2e" font-weight="normal" stroke="#2e2e2e" stroke-width="0.12" >HD</text>
<line x1="287.00" y1="350.30" x2="287.00" y2="352.80" stroke="#262626" stroke-width="0.9" />
<text x="287.00" y="362.00" font-size="6.4" text-anchor="middle" fill="#2e2e2e" font-weight="normal" stroke="#2e2e2e" stroke-width="0.12" >HH</text>
<line x1="301.50" y1="350.30" x2="301.50" y2="352.80" stroke="#262626" stroke-width="0.9" />
<text x="301.50" y="362.00" font-size="6.4" text-anchor="middle" fill="#2e2e2e" font-weight="normal" stroke="#2e2e2e" stroke-width="0.12" >TH</text>
<text transform="translate(245.80,312.60) rotate(-90)" font-size="6.8" text-anchor="middle" fill="#2e2e2e" stroke="#2e2e2e" stroke-width="0.12" textLength="40.6" lengthAdjust="spacingAndGlyphs">γδ<tspan font-size="4.2" dy="-2.1">+</tspan><tspan dy="2.1">​</tspan>/CD3<tspan font-size="4.2" dy="-2.1">+</tspan><tspan dy="2.1">​</tspan> [%]</text>
<path d="M271.00 270.40V267.40H302.30V270.40" fill="none" stroke="#5e5e5e" stroke-width="0.95"/>
<text x="287.00" y="265.90" font-size="6.6" text-anchor="middle" fill="#e55d89" font-weight="normal" stroke="#e55d89" stroke-width="0.12" >ns</text>
<path d="M271.60 286.10V282.30H286.00V286.10" fill="none" stroke="#5e5e5e" stroke-width="0.95"/>
<text x="278.80" y="280.80" font-size="6.6" text-anchor="middle" fill="#e55d89" font-weight="normal" stroke="#e55d89" stroke-width="0.12" >ns</text>
<path d="M288.30 286.10V282.30H302.60V286.10" fill="none" stroke="#5e5e5e" stroke-width="0.95"/>
<text x="295.40" y="280.80" font-size="6.6" text-anchor="middle" fill="#e55d89" font-weight="normal" stroke="#e55d89" stroke-width="0.12" >ns</text>
<circle cx="271.33" cy="303.56" r="0.88" fill="#2b68a6" />
<circle cx="273.04" cy="313.40" r="0.88" fill="#2b68a6" />
<circle cx="271.53" cy="320.78" r="0.88" fill="#2b68a6" />
<circle cx="270.35" cy="323.24" r="0.88" fill="#2b68a6" />
<circle cx="271.97" cy="325.70" r="0.88" fill="#2b68a6" />
<circle cx="270.02" cy="328.16" r="0.88" fill="#2b68a6" />
<circle cx="270.01" cy="330.62" r="0.88" fill="#2b68a6" />
<circle cx="272.20" cy="331.85" r="0.88" fill="#2b68a6" />
<circle cx="269.79" cy="333.08" r="0.88" fill="#2b68a6" />
<circle cx="271.60" cy="334.31" r="0.88" fill="#2b68a6" />
<circle cx="269.47" cy="335.54" r="0.88" fill="#2b68a6" />
<circle cx="271.28" cy="336.77" r="0.88" fill="#2b68a6" />
<circle cx="274.32" cy="337.51" r="0.88" fill="#2b68a6" />
<circle cx="269.21" cy="338.00" r="0.88" fill="#2b68a6" />
<circle cx="272.50" cy="338.49" r="0.88" fill="#2b68a6" />
<circle cx="276.40" cy="338.98" r="0.88" fill="#2b68a6" />
<circle cx="270.79" cy="339.48" r="0.88" fill="#2b68a6" />
<circle cx="274.11" cy="339.97" r="0.88" fill="#2b68a6" />
<circle cx="268.74" cy="340.46" r="0.88" fill="#2b68a6" />
<circle cx="272.19" cy="340.95" r="0.88" fill="#2b68a6" />
<circle cx="270.28" cy="341.69" r="0.88" fill="#2b68a6" />
<circle cx="273.85" cy="342.43" r="0.88" fill="#2b68a6" />
<circle cx="271.98" cy="342.92" r="0.88" fill="#2b68a6" />
<circle cx="269.46" cy="343.41" r="0.88" fill="#2b68a6" />
<circle cx="274.84" cy="344.15" r="0.88" fill="#2b68a6" />
<circle cx="271.67" cy="344.89" r="0.88" fill="#2b68a6" />
<circle cx="267.56" cy="345.38" r="0.88" fill="#2b68a6" />
<circle cx="273.30" cy="345.87" r="0.88" fill="#2b68a6" />
<circle cx="269.14" cy="346.61" r="0.88" fill="#2b68a6" />
<circle cx="271.90" cy="347.84" r="0.88" fill="#2b68a6" />
<circle cx="285.96" cy="290.03" r="0.88" fill="#cf2c4a" />
<circle cx="286.99" cy="323.24" r="0.88" fill="#cf2c4a" />
<circle cx="288.62" cy="325.70" r="0.88" fill="#ea8aa0" />
<circle cx="285.12" cy="328.16" r="0.88" fill="#ea8aa0" />
<circle cx="287.69" cy="331.85" r="0.88" fill="#ea8aa0" />
<circle cx="285.73" cy="334.31" r="0.88" fill="#cf2c4a" />
<circle cx="287.62" cy="335.54" r="0.88" fill="#cf2c4a" />
<circle cx="285.52" cy="336.77" r="0.88" fill="#cf2c4a" />
<circle cx="288.18" cy="337.51" r="0.88" fill="#cf2c4a" />
<circle cx="290.18" cy="338.00" r="0.88" fill="#ea8aa0" />
<circle cx="286.55" cy="338.49" r="0.88" fill="#cf2c4a" />
<circle cx="284.60" cy="338.98" r="0.88" fill="#ea8aa0" />
<circle cx="291.88" cy="339.23" r="0.88" fill="#cf2c4a" />
<circle cx="288.21" cy="339.48" r="0.88" fill="#ea8aa0" />
<circle cx="290.16" cy="339.97" r="0.88" fill="#cf2c4a" />
<circle cx="282.86" cy="340.21" r="0.88" fill="#cf2c4a" />
<circle cx="285.89" cy="340.46" r="0.88" fill="#cf2c4a" />
<circle cx="292.16" cy="340.71" r="0.88" fill="#cf2c4a" />
<circle cx="287.55" cy="340.95" r="0.88" fill="#ea8aa0" />
<circle cx="284.34" cy="341.20" r="0.88" fill="#cf2c4a" />
<circle cx="289.46" cy="341.69" r="0.88" fill="#cf2c4a" />
<circle cx="282.00" cy="341.94" r="0.88" fill="#cf2c4a" />
<circle cx="286.00" cy="342.43" r="0.88" fill="#ea8aa0" />
<circle cx="288.07" cy="342.92" r="0.88" fill="#ea8aa0" />
<circle cx="283.98" cy="343.17" r="0.88" fill="#cf2c4a" />
<circle cx="289.93" cy="343.66" r="0.88" fill="#cf2c4a" />
<circle cx="292.30" cy="344.15" r="0.88" fill="#cf2c4a" />
<circle cx="285.90" cy="344.64" r="0.88" fill="#ea8aa0" />
<circle cx="288.51" cy="345.38" r="0.88" fill="#cf2c4a" />
<circle cx="290.56" cy="345.87" r="0.88" fill="#cf2c4a" />
<circle cx="285.06" cy="346.61" r="0.88" fill="#ea8aa0" />
<circle cx="287.56" cy="347.35" r="0.88" fill="#ea8aa0" />
<circle cx="289.63" cy="347.84" r="0.88" fill="#ea8aa0" />
<circle cx="300.12" cy="308.48" r="0.88" fill="#ad1232" />
<circle cx="301.95" cy="313.40" r="0.88" fill="#ad1232" />
<circle cx="300.46" cy="315.86" r="0.88" fill="#ad1232" />
<circle cx="300.62" cy="318.32" r="0.88" fill="#ad1232" />
<circle cx="301.02" cy="320.78" r="0.88" fill="#ad1232" />
<circle cx="303.28" cy="323.24" r="0.88" fill="#ad1232" />
<circle cx="301.68" cy="325.70" r="0.88" fill="#ad1232" />
<circle cx="303.03" cy="328.16" r="0.88" fill="#ad1232" />
<circle cx="301.02" cy="329.39" r="0.88" fill="#ad1232" />
<circle cx="302.87" cy="330.62" r="0.88" fill="#ad1232" />
<circle cx="299.98" cy="331.85" r="0.88" fill="#ad1232" />
<circle cx="301.44" cy="333.08" r="0.88" fill="#ad1232" />
<circle cx="299.67" cy="334.31" r="0.88" fill="#ad1232" />
<circle cx="302.09" cy="335.05" r="0.88" fill="#ad1232" />
<circle cx="304.58" cy="335.54" r="0.88" fill="#ad1232" />
<circle cx="303.00" cy="336.77" r="0.88" fill="#ad1232" />
<circle cx="300.72" cy="338.00" r="0.88" fill="#ad1232" />
<circle cx="303.23" cy="339.23" r="0.88" fill="#ad1232" />
<circle cx="300.58" cy="340.46" r="0.88" fill="#ad1232" />
<circle cx="303.18" cy="341.69" r="0.88" fill="#ad1232" />
<circle cx="301.75" cy="342.92" r="0.88" fill="#ad1232" />
<circle cx="299.28" cy="344.15" r="0.88" fill="#ad1232" />
<circle cx="301.66" cy="344.89" r="0.88" fill="#ad1232" />
<circle cx="304.17" cy="345.38" r="0.88" fill="#ad1232" />
<circle cx="300.08" cy="346.36" r="0.88" fill="#ad1232" />
<circle cx="302.04" cy="347.35" r="0.88" fill="#ad1232" />
<line x1="267.00" y1="338.49" x2="276.00" y2="338.49" stroke="#2b68a6" stroke-width="0.9" />
<line x1="282.50" y1="339.48" x2="291.50" y2="339.48" stroke="#cf2c4a" stroke-width="0.9" />
<line x1="297.00" y1="334.80" x2="306.00" y2="334.80" stroke="#ad1232" stroke-width="0.9" />
<line x1="350.30" y1="275.20" x2="350.30" y2="350.80" stroke="#262626" stroke-width="1.2" />
<line x1="349.70" y1="350.20" x2="428.00" y2="350.20" stroke="#262626" stroke-width="1.2" />
<line x1="347.00" y1="349.90" x2="350.30" y2="349.90" stroke="#262626" stroke-width="0.9" />
<text x="344.30" y="352.00" font-size="6.0" text-anchor="end" fill="#2e2e2e" font-weight="normal" stroke="#2e2e2e" stroke-width="0.12" >0</text>
<line x1="347.00" y1="335.41" x2="350.30" y2="335.41" stroke="#262626" stroke-width="0.9" />
<text x="344.30" y="337.51" font-size="6.0" text-anchor="end" fill="#2e2e2e" font-weight="normal" stroke="#2e2e2e" stroke-width="0.12" >20</text>
<line x1="347.00" y1="320.92" x2="350.30" y2="320.92" stroke="#262626" stroke-width="0.9" />
<text x="344.30" y="323.02" font-size="6.0" text-anchor="end" fill="#2e2e2e" font-weight="normal" stroke="#2e2e2e" stroke-width="0.12" >40</text>
<line x1="347.00" y1="306.43" x2="350.30" y2="306.43" stroke="#262626" stroke-width="0.9" />
<text x="344.30" y="308.53" font-size="6.0" text-anchor="end" fill="#2e2e2e" font-weight="normal" stroke="#2e2e2e" stroke-width="0.12" >60</text>
<line x1="347.00" y1="291.94" x2="350.30" y2="291.94" stroke="#262626" stroke-width="0.9" />
<text x="344.30" y="294.04" font-size="6.0" text-anchor="end" fill="#2e2e2e" font-weight="normal" stroke="#2e2e2e" stroke-width="0.12" >80</text>
<line x1="347.00" y1="277.45" x2="350.30" y2="277.45" stroke="#262626" stroke-width="0.9" />
<text x="344.30" y="279.55" font-size="6.0" text-anchor="end" fill="#2e2e2e" font-weight="normal" stroke="#2e2e2e" stroke-width="0.12" >100</text>
<line x1="369.20" y1="350.20" x2="369.20" y2="352.80" stroke="#262626" stroke-width="0.9" />
<line x1="409.70" y1="350.20" x2="409.70" y2="352.80" stroke="#262626" stroke-width="0.9" />
<text x="369.20" y="360.30" font-size="6.2" text-anchor="middle" fill="#2e2e2e" font-weight="normal" stroke="#2e2e2e" stroke-width="0.12" >Vδ2<tspan font-size="4.2" dy="-2.1">+</tspan><tspan dy="2.1">​</tspan></text>
<text x="409.70" y="360.30" font-size="6.2" text-anchor="middle" fill="#2e2e2e" font-weight="normal" stroke="#2e2e2e" stroke-width="0.12" >Vδ2<tspan font-size="4.2" dy="-2.1">−</tspan><tspan dy="2.1">​</tspan></text>
<text transform="translate(327.90,312.80) rotate(-90)" font-size="6.8" text-anchor="middle" fill="#2e2e2e" stroke="#2e2e2e" stroke-width="0.12" textLength="22.5" lengthAdjust="spacingAndGlyphs">% of γδ<tspan font-size="4.2" dy="-2.1">+</tspan><tspan dy="2.1">​</tspan></text>
<path d="M357.20 242.00V238.00H380.10V242.00" fill="none" stroke="#5e5e5e" stroke-width="0.95"/>
<text x="368.60" y="238.70" font-size="6.9" text-anchor="middle" fill="#2e2e2e" font-weight="normal" stroke="#2e2e2e" stroke-width="0.12" letter-spacing="0.15">****</text>
<path d="M368.50 257.60V253.30H379.70V257.60" fill="none" stroke="#5e5e5e" stroke-width="0.95"/>
<text x="374.00" y="251.80" font-size="6.6" text-anchor="middle" fill="#e55d89" font-weight="normal" stroke="#e55d89" stroke-width="0.12" >ns</text>
<path d="M357.20 273.00V269.00H368.50V273.00" fill="none" stroke="#5e5e5e" stroke-width="0.95"/>
<text x="362.90" y="269.70" font-size="6.9" text-anchor="middle" fill="#2e2e2e" font-weight="normal" stroke="#2e2e2e" stroke-width="0.12" letter-spacing="0.15">****</text>
<path d="M397.60 242.00V238.00H419.50V242.00" fill="none" stroke="#5e5e5e" stroke-width="0.95"/>
<text x="408.60" y="238.70" font-size="6.9" text-anchor="middle" fill="#2e2e2e" font-weight="normal" stroke="#2e2e2e" stroke-width="0.12" letter-spacing="0.15">****</text>
<path d="M398.00 257.60V253.30H409.10V257.60" fill="none" stroke="#5e5e5e" stroke-width="0.95"/>
<text x="403.60" y="254.00" font-size="6.9" text-anchor="middle" fill="#2e2e2e" font-weight="normal" stroke="#2e2e2e" stroke-width="0.12" letter-spacing="0.15">****</text>
<path d="M409.60 273.00V269.00H419.50V273.00" fill="none" stroke="#5e5e5e" stroke-width="0.95"/>
<text x="414.50" y="267.50" font-size="6.6" text-anchor="middle" fill="#e55d89" font-weight="normal" stroke="#e55d89" stroke-width="0.12" >ns</text>
<circle cx="357.36" cy="283.25" r="0.88" fill="#2b68a6" />
<circle cx="358.87" cy="284.69" r="0.88" fill="#2b68a6" />
<circle cx="357.67" cy="286.14" r="0.88" fill="#2b68a6" />
<circle cx="359.72" cy="286.87" r="0.88" fill="#2b68a6" />
<circle cx="358.21" cy="288.32" r="0.88" fill="#2b68a6" />
<circle cx="360.01" cy="289.04" r="0.88" fill="#2b68a6" />
<circle cx="357.22" cy="290.49" r="0.88" fill="#2b68a6" />
<circle cx="359.58" cy="291.94" r="0.88" fill="#2b68a6" />
<circle cx="357.59" cy="293.39" r="0.88" fill="#2b68a6" />
<circle cx="358.49" cy="295.56" r="0.88" fill="#2b68a6" />
<circle cx="357.25" cy="297.74" r="0.88" fill="#2b68a6" />
<circle cx="359.39" cy="299.18" r="0.88" fill="#2b68a6" />
<circle cx="357.06" cy="300.63" r="0.88" fill="#2b68a6" />
<circle cx="358.79" cy="302.08" r="0.88" fill="#2b68a6" />
<circle cx="357.37" cy="303.53" r="0.88" fill="#2b68a6" />
<circle cx="359.34" cy="304.26" r="0.88" fill="#2b68a6" />
<circle cx="356.01" cy="304.98" r="0.88" fill="#2b68a6" />
<circle cx="358.90" cy="306.43" r="0.88" fill="#2b68a6" />
<circle cx="357.39" cy="307.88" r="0.88" fill="#2b68a6" />
<circle cx="358.52" cy="310.05" r="0.88" fill="#2b68a6" />
<circle cx="356.80" cy="312.23" r="0.88" fill="#2b68a6" />
<circle cx="358.96" cy="313.67" r="0.88" fill="#2b68a6" />
<circle cx="357.10" cy="315.12" r="0.88" fill="#2b68a6" />
<circle cx="357.63" cy="317.30" r="0.88" fill="#2b68a6" />
<circle cx="359.08" cy="319.47" r="0.88" fill="#2b68a6" />
<circle cx="358.46" cy="322.37" r="0.88" fill="#2b68a6" />
<circle cx="357.48" cy="324.54" r="0.88" fill="#2b68a6" />
<circle cx="357.17" cy="328.16" r="0.88" fill="#2b68a6" />
<circle cx="356.77" cy="331.79" r="0.88" fill="#2b68a6" />
<circle cx="359.02" cy="334.69" r="0.88" fill="#2b68a6" />
<line x1="354.30" y1="304.26" x2="361.90" y2="304.26" stroke="#2b68a6" stroke-width="0.9" />
<circle cx="368.09" cy="279.62" r="0.88" fill="#ea8aa0" />
<circle cx="369.78" cy="283.25" r="0.88" fill="#ea8aa0" />
<circle cx="369.15" cy="288.32" r="0.88" fill="#cf2c4a" />
<circle cx="370.41" cy="291.94" r="0.88" fill="#cf2c4a" />
<circle cx="370.15" cy="294.84" r="0.88" fill="#ea8aa0" />
<circle cx="369.97" cy="297.74" r="0.88" fill="#cf2c4a" />
<circle cx="370.31" cy="300.63" r="0.88" fill="#ea8aa0" />
<circle cx="370.07" cy="304.98" r="0.88" fill="#ea8aa0" />
<circle cx="369.32" cy="309.33" r="0.88" fill="#cf2c4a" />
<circle cx="368.29" cy="313.67" r="0.88" fill="#cf2c4a" />
<circle cx="368.70" cy="317.30" r="0.88" fill="#ea8aa0" />
<circle cx="368.07" cy="320.92" r="0.88" fill="#ea8aa0" />
<circle cx="369.11" cy="323.82" r="0.88" fill="#cf2c4a" />
<circle cx="368.83" cy="325.99" r="0.88" fill="#cf2c4a" />
<circle cx="368.15" cy="328.16" r="0.88" fill="#cf2c4a" />
<circle cx="370.56" cy="328.89" r="0.88" fill="#cf2c4a" />
<circle cx="366.92" cy="329.61" r="0.88" fill="#cf2c4a" />
<circle cx="368.75" cy="331.06" r="0.88" fill="#cf2c4a" />
<circle cx="370.31" cy="332.51" r="0.88" fill="#ea8aa0" />
<circle cx="368.24" cy="333.96" r="0.88" fill="#ea8aa0" />
<circle cx="369.67" cy="335.41" r="0.88" fill="#cf2c4a" />
<circle cx="368.35" cy="336.86" r="0.88" fill="#cf2c4a" />
<circle cx="370.10" cy="338.31" r="0.88" fill="#cf2c4a" />
<circle cx="368.11" cy="339.76" r="0.88" fill="#ea8aa0" />
<circle cx="370.73" cy="341.21" r="0.88" fill="#cf2c4a" />
<circle cx="369.23" cy="342.65" r="0.88" fill="#cf2c4a" />
<circle cx="367.31" cy="343.38" r="0.88" fill="#cf2c4a" />
<circle cx="370.60" cy="344.10" r="0.88" fill="#cf2c4a" />
<circle cx="367.68" cy="345.55" r="0.88" fill="#cf2c4a" />
<circle cx="369.64" cy="346.28" r="0.88" fill="#ea8aa0" />
<circle cx="372.06" cy="347.00" r="0.88" fill="#cf2c4a" />
<circle cx="369.77" cy="348.45" r="0.88" fill="#cf2c4a" />
<circle cx="367.68" cy="349.18" r="0.88" fill="#ea8aa0" />
<line x1="365.40" y1="328.16" x2="373.00" y2="328.16" stroke="#cf2c4a" stroke-width="0.9" />
<circle cx="380.50" cy="293.39" r="0.88" fill="#ad1232" />
<circle cx="379.85" cy="304.98" r="0.88" fill="#ad1232" />
<circle cx="379.93" cy="307.88" r="0.88" fill="#ad1232" />
<circle cx="379.30" cy="313.67" r="0.88" fill="#ad1232" />
<circle cx="379.33" cy="317.30" r="0.88" fill="#ad1232" />
<circle cx="380.42" cy="319.47" r="0.88" fill="#ad1232" />
<circle cx="380.46" cy="322.37" r="0.88" fill="#ad1232" />
<circle cx="381.73" cy="323.82" r="0.88" fill="#ad1232" />
<circle cx="380.57" cy="325.27" r="0.88" fill="#ad1232" />
<circle cx="379.42" cy="326.72" r="0.88" fill="#ad1232" />
<circle cx="381.18" cy="328.16" r="0.88" fill="#ad1232" />
<circle cx="379.07" cy="329.61" r="0.88" fill="#ad1232" />
<circle cx="381.72" cy="330.34" r="0.88" fill="#ad1232" />
<circle cx="376.90" cy="331.06" r="0.88" fill="#ad1232" />
<circle cx="379.36" cy="331.79" r="0.88" fill="#ad1232" />
<circle cx="381.31" cy="332.51" r="0.88" fill="#ad1232" />
<circle cx="379.97" cy="333.96" r="0.88" fill="#ad1232" />
<circle cx="381.48" cy="335.41" r="0.88" fill="#ad1232" />
<circle cx="380.10" cy="336.86" r="0.88" fill="#ad1232" />
<circle cx="379.82" cy="339.03" r="0.88" fill="#ad1232" />
<circle cx="380.90" cy="341.21" r="0.88" fill="#ad1232" />
<circle cx="379.64" cy="342.65" r="0.88" fill="#ad1232" />
<circle cx="381.11" cy="344.10" r="0.88" fill="#ad1232" />
<circle cx="379.61" cy="346.28" r="0.88" fill="#ad1232" />
<circle cx="381.70" cy="347.73" r="0.88" fill="#ad1232" />
<circle cx="380.05" cy="349.18" r="0.88" fill="#ad1232" />
<line x1="376.50" y1="331.06" x2="384.10" y2="331.06" stroke="#ad1232" stroke-width="0.9" />
<circle cx="397.86" cy="293.39" r="0.88" fill="#2b68a6" />
<circle cx="398.78" cy="299.18" r="0.88" fill="#2b68a6" />
<circle cx="397.53" cy="302.08" r="0.88" fill="#2b68a6" />
<circle cx="397.60" cy="304.98" r="0.88" fill="#2b68a6" />
<circle cx="399.80" cy="307.88" r="0.88" fill="#2b68a6" />
<circle cx="397.92" cy="310.78" r="0.88" fill="#2b68a6" />
<circle cx="398.13" cy="313.67" r="0.88" fill="#2b68a6" />
<circle cx="399.65" cy="316.57" r="0.88" fill="#2b68a6" />
<circle cx="398.33" cy="318.02" r="0.88" fill="#2b68a6" />
<circle cx="397.12" cy="319.47" r="0.88" fill="#2b68a6" />
<circle cx="398.60" cy="320.92" r="0.88" fill="#2b68a6" />
<circle cx="399.87" cy="322.37" r="0.88" fill="#2b68a6" />
<circle cx="397.82" cy="323.09" r="0.88" fill="#2b68a6" />
<circle cx="395.96" cy="323.82" r="0.88" fill="#2b68a6" />
<circle cx="399.20" cy="324.54" r="0.88" fill="#2b68a6" />
<circle cx="397.36" cy="325.27" r="0.88" fill="#2b68a6" />
<circle cx="399.76" cy="326.72" r="0.88" fill="#2b68a6" />
<circle cx="397.48" cy="328.16" r="0.88" fill="#2b68a6" />
<circle cx="399.21" cy="329.61" r="0.88" fill="#2b68a6" />
<circle cx="397.75" cy="331.06" r="0.88" fill="#2b68a6" />
<circle cx="399.04" cy="332.51" r="0.88" fill="#2b68a6" />
<circle cx="397.61" cy="333.96" r="0.88" fill="#2b68a6" />
<circle cx="399.74" cy="335.41" r="0.88" fill="#2b68a6" />
<circle cx="398.01" cy="336.86" r="0.88" fill="#2b68a6" />
<circle cx="397.51" cy="339.03" r="0.88" fill="#2b68a6" />
<circle cx="398.68" cy="340.48" r="0.88" fill="#2b68a6" />
<circle cx="396.91" cy="341.21" r="0.88" fill="#2b68a6" />
<circle cx="399.90" cy="342.65" r="0.88" fill="#2b68a6" />
<circle cx="397.35" cy="343.38" r="0.88" fill="#2b68a6" />
<circle cx="395.07" cy="344.10" r="0.88" fill="#2b68a6" />
<line x1="394.80" y1="323.82" x2="402.40" y2="323.82" stroke="#2b68a6" stroke-width="0.9" />
<circle cx="410.27" cy="278.90" r="0.88" fill="#cf2c4a" />
<circle cx="408.77" cy="280.35" r="0.88" fill="#ea8aa0" />
<circle cx="410.86" cy="281.80" r="0.88" fill="#ea8aa0" />
<circle cx="408.74" cy="283.25" r="0.88" fill="#ea8aa0" />
<circle cx="410.11" cy="284.69" r="0.88" fill="#cf2c4a" />
<circle cx="408.40" cy="286.14" r="0.88" fill="#cf2c4a" />
<circle cx="410.35" cy="287.59" r="0.88" fill="#cf2c4a" />
<circle cx="408.42" cy="289.04" r="0.88" fill="#cf2c4a" />
<circle cx="411.18" cy="290.49" r="0.88" fill="#ea8aa0" />
<circle cx="409.67" cy="291.94" r="0.88" fill="#cf2c4a" />
<circle cx="410.99" cy="293.39" r="0.88" fill="#ea8aa0" />
<circle cx="409.58" cy="294.84" r="0.88" fill="#cf2c4a" />
<circle cx="407.84" cy="295.56" r="0.88" fill="#ea8aa0" />
<circle cx="411.02" cy="296.29" r="0.88" fill="#cf2c4a" />
<circle cx="409.10" cy="297.01" r="0.88" fill="#cf2c4a" />
<circle cx="407.15" cy="297.74" r="0.88" fill="#ea8aa0" />
<circle cx="408.94" cy="299.18" r="0.88" fill="#cf2c4a" />
<circle cx="411.26" cy="300.63" r="0.88" fill="#cf2c4a" />
<circle cx="408.84" cy="302.08" r="0.88" fill="#cf2c4a" />
<circle cx="410.26" cy="303.53" r="0.88" fill="#cf2c4a" />
<circle cx="409.10" cy="306.43" r="0.88" fill="#ea8aa0" />
<circle cx="408.85" cy="310.05" r="0.88" fill="#ea8aa0" />
<circle cx="409.42" cy="313.67" r="0.88" fill="#cf2c4a" />
<circle cx="410.27" cy="317.30" r="0.88" fill="#ea8aa0" />
<circle cx="409.33" cy="320.92" r="0.88" fill="#ea8aa0" />
<circle cx="410.86" cy="324.54" r="0.88" fill="#cf2c4a" />
<circle cx="410.41" cy="328.16" r="0.88" fill="#cf2c4a" />
<circle cx="410.78" cy="331.79" r="0.88" fill="#ea8aa0" />
<circle cx="409.23" cy="335.41" r="0.88" fill="#cf2c4a" />
<circle cx="408.59" cy="339.03" r="0.88" fill="#cf2c4a" />
<circle cx="409.24" cy="342.65" r="0.88" fill="#cf2c4a" />
<circle cx="409.75" cy="346.28" r="0.88" fill="#ea8aa0" />
<circle cx="409.42" cy="349.18" r="0.88" fill="#ea8aa0" />
<line x1="405.90" y1="297.01" x2="413.50" y2="297.01" stroke="#cf2c4a" stroke-width="0.9" />
<circle cx="419.58" cy="279.62" r="0.88" fill="#ad1232" />
<circle cx="421.66" cy="280.35" r="0.88" fill="#ad1232" />
<circle cx="419.69" cy="281.80" r="0.88" fill="#ad1232" />
<circle cx="421.42" cy="283.25" r="0.88" fill="#ad1232" />
<circle cx="419.94" cy="284.69" r="0.88" fill="#ad1232" />
<circle cx="421.28" cy="286.14" r="0.88" fill="#ad1232" />
<circle cx="421.62" cy="288.32" r="0.88" fill="#ad1232" />
<circle cx="420.26" cy="290.49" r="0.88" fill="#ad1232" />
<circle cx="421.91" cy="291.94" r="0.88" fill="#ad1232" />
<circle cx="419.83" cy="293.39" r="0.88" fill="#ad1232" />
<circle cx="421.73" cy="294.84" r="0.88" fill="#ad1232" />
<circle cx="419.72" cy="296.29" r="0.88" fill="#ad1232" />
<circle cx="421.06" cy="297.74" r="0.88" fill="#ad1232" />
<circle cx="419.30" cy="298.46" r="0.88" fill="#ad1232" />
<circle cx="422.91" cy="299.18" r="0.88" fill="#ad1232" />
<circle cx="420.17" cy="300.63" r="0.88" fill="#ad1232" />
<circle cx="422.35" cy="302.08" r="0.88" fill="#ad1232" />
<circle cx="421.00" cy="303.53" r="0.88" fill="#ad1232" />
<circle cx="422.17" cy="304.98" r="0.88" fill="#ad1232" />
<circle cx="420.49" cy="306.43" r="0.88" fill="#ad1232" />
<circle cx="422.66" cy="307.88" r="0.88" fill="#ad1232" />
<circle cx="419.98" cy="310.05" r="0.88" fill="#ad1232" />
<circle cx="421.28" cy="313.67" r="0.88" fill="#ad1232" />
<circle cx="419.47" cy="317.30" r="0.88" fill="#ad1232" />
<circle cx="420.52" cy="323.09" r="0.88" fill="#ad1232" />
<circle cx="420.78" cy="335.41" r="0.88" fill="#ad1232" />
<line x1="417.00" y1="298.46" x2="424.60" y2="298.46" stroke="#ad1232" stroke-width="0.9" />
<line x1="462.10" y1="275.00" x2="462.10" y2="286.40" stroke="#262626" stroke-width="1.2" />
<line x1="462.10" y1="291.80" x2="462.10" y2="350.80" stroke="#262626" stroke-width="1.2" />
<line x1="460.10" y1="287.60" x2="464.10" y2="284.60" stroke="#262626" stroke-width="0.9" />
<line x1="460.10" y1="292.60" x2="464.10" y2="289.60" stroke="#262626" stroke-width="0.9" />
<line x1="461.50" y1="350.10" x2="508.60" y2="350.10" stroke="#262626" stroke-width="1.2" />
<line x1="459.30" y1="349.80" x2="462.10" y2="349.80" stroke="#262626" stroke-width="0.9" />
<text x="457.60" y="351.90" font-size="6.0" text-anchor="end" fill="#2e2e2e" font-weight="normal" stroke="#2e2e2e" stroke-width="0.12" >0</text>
<line x1="459.30" y1="330.00" x2="462.10" y2="330.00" stroke="#262626" stroke-width="0.9" />
<text x="457.60" y="332.10" font-size="6.0" text-anchor="end" fill="#2e2e2e" font-weight="normal" stroke="#2e2e2e" stroke-width="0.12" >5</text>
<line x1="459.30" y1="310.20" x2="462.10" y2="310.20" stroke="#262626" stroke-width="0.9" />
<text x="457.60" y="312.30" font-size="6.0" text-anchor="end" fill="#2e2e2e" font-weight="normal" stroke="#2e2e2e" stroke-width="0.12" >10</text>
<line x1="459.30" y1="290.40" x2="462.10" y2="290.40" stroke="#262626" stroke-width="0.9" />
<text x="457.60" y="292.50" font-size="6.0" text-anchor="end" fill="#2e2e2e" font-weight="normal" stroke="#2e2e2e" stroke-width="0.12" >15</text>
<line x1="459.30" y1="284.90" x2="462.10" y2="284.90" stroke="#262626" stroke-width="0.9" />
<text x="457.60" y="287.00" font-size="6.0" text-anchor="end" fill="#2e2e2e" font-weight="normal" stroke="#2e2e2e" stroke-width="0.12" >40</text>
<line x1="459.30" y1="278.80" x2="462.10" y2="278.80" stroke="#262626" stroke-width="0.9" />
<text x="457.60" y="280.90" font-size="6.0" text-anchor="end" fill="#2e2e2e" font-weight="normal" stroke="#2e2e2e" stroke-width="0.12" >60</text>
<line x1="472.70" y1="350.10" x2="472.70" y2="352.60" stroke="#262626" stroke-width="0.9" />
<text x="472.70" y="361.40" font-size="6.4" text-anchor="middle" fill="#2e2e2e" font-weight="normal" stroke="#2e2e2e" stroke-width="0.12" >HD</text>
<line x1="487.40" y1="350.10" x2="487.40" y2="352.60" stroke="#262626" stroke-width="0.9" />
<text x="487.40" y="361.40" font-size="6.4" text-anchor="middle" fill="#2e2e2e" font-weight="normal" stroke="#2e2e2e" stroke-width="0.12" >HH</text>
<line x1="502.80" y1="350.10" x2="502.80" y2="352.60" stroke="#262626" stroke-width="0.9" />
<text x="502.80" y="361.40" font-size="6.4" text-anchor="middle" fill="#2e2e2e" font-weight="normal" stroke="#2e2e2e" stroke-width="0.12" >TH</text>
<text transform="translate(444.40,313.80) rotate(-90)" font-size="6.6" text-anchor="middle" fill="#2e2e2e" stroke="#2e2e2e" stroke-width="0.12" textLength="30.0" lengthAdjust="spacingAndGlyphs">Vδ2<tspan font-size="4.2" dy="-2.1">+</tspan><tspan dy="2.1">​</tspan>/Vδ2<tspan font-size="4.2" dy="-2.1">−</tspan><tspan dy="2.1">​</tspan></text>
<path d="M472.60 260.40V256.50H503.30V260.40" fill="none" stroke="#5e5e5e" stroke-width="0.95"/>
<text x="487.90" y="257.20" font-size="6.9" text-anchor="middle" fill="#2e2e2e" font-weight="normal" stroke="#2e2e2e" stroke-width="0.12" letter-spacing="0.15">****</text>
<path d="M472.60 275.80V272.20H486.70V275.80" fill="none" stroke="#5e5e5e" stroke-width="0.95"/>
<text x="479.60" y="272.90" font-size="6.9" text-anchor="middle" fill="#2e2e2e" font-weight="normal" stroke="#2e2e2e" stroke-width="0.12" letter-spacing="0.15">***</text>
<path d="M489.20 275.80V272.20H503.30V275.80" fill="none" stroke="#5e5e5e" stroke-width="0.95"/>
<text x="496.30" y="270.70" font-size="6.6" text-anchor="middle" fill="#e55d89" font-weight="normal" stroke="#e55d89" stroke-width="0.12" >ns</text>
<circle cx="472.87" cy="296.34" r="0.88" fill="#2b68a6" />
<circle cx="472.91" cy="310.20" r="0.88" fill="#2b68a6" />
<circle cx="474.34" cy="314.16" r="0.88" fill="#2b68a6" />
<circle cx="472.16" cy="314.95" r="0.88" fill="#2b68a6" />
<circle cx="472.05" cy="320.10" r="0.88" fill="#2b68a6" />
<circle cx="473.38" cy="322.08" r="0.88" fill="#2b68a6" />
<circle cx="474.32" cy="324.85" r="0.88" fill="#2b68a6" />
<circle cx="471.51" cy="326.04" r="0.88" fill="#2b68a6" />
<circle cx="472.67" cy="333.96" r="0.88" fill="#2b68a6" />
<circle cx="472.24" cy="337.92" r="0.88" fill="#2b68a6" />
<circle cx="470.54" cy="338.71" r="0.88" fill="#2b68a6" />
<circle cx="473.55" cy="339.90" r="0.88" fill="#2b68a6" />
<circle cx="471.19" cy="340.69" r="0.88" fill="#2b68a6" />
<circle cx="474.53" cy="341.48" r="0.88" fill="#2b68a6" />
<circle cx="469.10" cy="341.88" r="0.88" fill="#2b68a6" />
<circle cx="472.31" cy="342.28" r="0.88" fill="#2b68a6" />
<circle cx="477.51" cy="342.67" r="0.88" fill="#2b68a6" />
<circle cx="470.47" cy="343.07" r="0.88" fill="#2b68a6" />
<circle cx="473.96" cy="343.46" r="0.88" fill="#2b68a6" />
<circle cx="468.64" cy="343.86" r="0.88" fill="#2b68a6" />
<circle cx="472.26" cy="344.26" r="0.88" fill="#2b68a6" />
<circle cx="475.99" cy="344.65" r="0.88" fill="#2b68a6" />
<circle cx="470.10" cy="345.05" r="0.88" fill="#2b68a6" />
<circle cx="474.04" cy="345.44" r="0.88" fill="#2b68a6" />
<circle cx="477.44" cy="345.84" r="0.88" fill="#2b68a6" />
<circle cx="471.27" cy="346.63" r="0.88" fill="#2b68a6" />
<circle cx="474.11" cy="347.42" r="0.88" fill="#2b68a6" />
<circle cx="468.99" cy="347.82" r="0.88" fill="#2b68a6" />
<circle cx="472.66" cy="348.61" r="0.88" fill="#2b68a6" />
<circle cx="470.80" cy="349.01" r="0.88" fill="#2b68a6" />
<circle cx="485.86" cy="314.16" r="0.88" fill="#ea8aa0" />
<circle cx="486.81" cy="331.98" r="0.88" fill="#cf2c4a" />
<circle cx="488.69" cy="335.94" r="0.88" fill="#ea8aa0" />
<circle cx="486.17" cy="338.71" r="0.88" fill="#cf2c4a" />
<circle cx="488.74" cy="341.09" r="0.88" fill="#cf2c4a" />
<circle cx="485.60" cy="342.67" r="0.88" fill="#cf2c4a" />
<circle cx="487.94" cy="343.86" r="0.88" fill="#cf2c4a" />
<circle cx="486.13" cy="345.05" r="0.88" fill="#cf2c4a" />
<circle cx="488.08" cy="345.84" r="0.88" fill="#ea8aa0" />
<circle cx="490.36" cy="346.24" r="0.88" fill="#cf2c4a" />
<circle cx="485.03" cy="346.63" r="0.88" fill="#cf2c4a" />
<circle cx="482.61" cy="347.03" r="0.88" fill="#cf2c4a" />
<circle cx="486.84" cy="347.42" r="0.88" fill="#ea8aa0" />
<circle cx="488.92" cy="347.82" r="0.88" fill="#ea8aa0" />
<circle cx="491.54" cy="347.82" r="0.88" fill="#ea8aa0" />
<circle cx="484.20" cy="348.22" r="0.88" fill="#cf2c4a" />
<circle cx="490.22" cy="348.22" r="0.88" fill="#cf2c4a" />
<circle cx="481.96" cy="348.61" r="0.88" fill="#cf2c4a" />
<circle cx="485.75" cy="348.61" r="0.88" fill="#cf2c4a" />
<circle cx="487.78" cy="348.61" r="0.88" fill="#ea8aa0" />
<circle cx="492.78" cy="349.01" r="0.88" fill="#ea8aa0" />
<circle cx="483.26" cy="349.01" r="0.88" fill="#cf2c4a" />
<circle cx="491.56" cy="349.01" r="0.88" fill="#ea8aa0" />
<circle cx="489.08" cy="349.40" r="0.88" fill="#ea8aa0" />
<circle cx="484.70" cy="349.40" r="0.88" fill="#cf2c4a" />
<circle cx="490.42" cy="349.40" r="0.88" fill="#ea8aa0" />
<circle cx="486.76" cy="349.40" r="0.88" fill="#ea8aa0" />
<circle cx="488.05" cy="349.60" r="0.88" fill="#ea8aa0" />
<circle cx="482.17" cy="349.60" r="0.88" fill="#cf2c4a" />
<circle cx="485.78" cy="349.80" r="0.88" fill="#ea8aa0" />
<circle cx="491.99" cy="349.80" r="0.88" fill="#cf2c4a" />
<circle cx="483.70" cy="349.80" r="0.88" fill="#ea8aa0" />
<circle cx="491.18" cy="349.80" r="0.88" fill="#cf2c4a" />
<circle cx="502.34" cy="334.75" r="0.88" fill="#ad1232" />
<circle cx="501.05" cy="337.13" r="0.88" fill="#ad1232" />
<circle cx="503.19" cy="339.90" r="0.88" fill="#ad1232" />
<circle cx="501.02" cy="342.67" r="0.88" fill="#ad1232" />
<circle cx="501.98" cy="344.26" r="0.88" fill="#ad1232" />
<circle cx="499.05" cy="345.05" r="0.88" fill="#ad1232" />
<circle cx="504.71" cy="345.84" r="0.88" fill="#ad1232" />
<circle cx="502.38" cy="346.24" r="0.88" fill="#ad1232" />
<circle cx="506.41" cy="346.63" r="0.88" fill="#ad1232" />
<circle cx="499.26" cy="347.03" r="0.88" fill="#ad1232" />
<circle cx="497.31" cy="347.42" r="0.88" fill="#ad1232" />
<circle cx="503.53" cy="347.82" r="0.88" fill="#ad1232" />
<circle cx="507.95" cy="347.82" r="0.88" fill="#ad1232" />
<circle cx="501.25" cy="348.22" r="0.88" fill="#ad1232" />
<circle cx="505.31" cy="348.22" r="0.88" fill="#ad1232" />
<circle cx="498.50" cy="348.61" r="0.88" fill="#ad1232" />
<circle cx="506.81" cy="348.61" r="0.88" fill="#ad1232" />
<circle cx="502.50" cy="349.01" r="0.88" fill="#ad1232" />
<circle cx="499.95" cy="349.01" r="0.88" fill="#ad1232" />
<circle cx="503.91" cy="349.01" r="0.88" fill="#ad1232" />
<circle cx="497.38" cy="349.40" r="0.88" fill="#ad1232" />
<circle cx="508.21" cy="349.40" r="0.88" fill="#ad1232" />
<circle cx="505.05" cy="349.40" r="0.88" fill="#ad1232" />
<circle cx="501.27" cy="349.80" r="0.88" fill="#ad1232" />
<circle cx="506.30" cy="349.80" r="0.88" fill="#ad1232" />
<circle cx="499.02" cy="349.80" r="0.88" fill="#ad1232" />
<circle cx="487.70" cy="281.85" r="0.85" fill="#ea8aa0" />
<line x1="468.20" y1="343.07" x2="477.20" y2="343.07" stroke="#2b68a6" stroke-width="0.9" />
<line x1="482.90" y1="348.61" x2="491.90" y2="348.61" stroke="#cf2c4a" stroke-width="0.9" />
<line x1="498.30" y1="348.61" x2="507.30" y2="348.61" stroke="#ad1232" stroke-width="0.9" />
<circle cx="301.90" cy="371.10" r="0.85" fill="#2b68a6" />
<text x="306.10" y="373.30" font-size="6.2" text-anchor="start" fill="#2e2e2e" font-weight="normal" stroke="#2e2e2e" stroke-width="0.12" textLength="29.4">HD n = 30</text>
<circle cx="342.40" cy="371.10" r="0.85" fill="#cf2c4a" />
<text x="345.90" y="373.30" font-size="6.2" text-anchor="start" fill="#2e2e2e" font-weight="normal" stroke="#2e2e2e" stroke-width="0.12" textLength="87.6">HH C282Y homozygous n = 22</text>
<circle cx="441.00" cy="371.10" r="0.85" fill="#ad1232" />
<text x="444.90" y="373.30" font-size="6.2" text-anchor="start" fill="#2e2e2e" font-weight="normal" stroke="#2e2e2e" stroke-width="0.12" textLength="28.4">TH n = 26</text>
<circle cx="342.40" cy="380.80" r="0.85" fill="#ea8aa0" />
<text x="345.90" y="383.00" font-size="6.2" text-anchor="start" fill="#2e2e2e" font-weight="normal" stroke="#2e2e2e" stroke-width="0.12" textLength="62.6">HH Compound n = 11</text>
</svg></div></body></html>
